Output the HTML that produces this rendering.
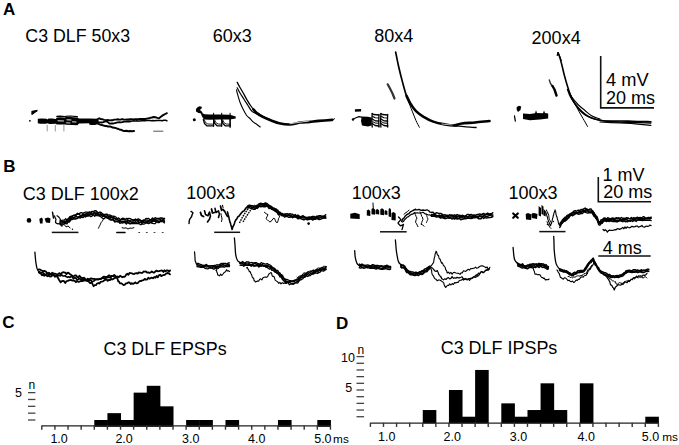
<!DOCTYPE html>
<html><head><meta charset="utf-8"><style>
html,body{margin:0;padding:0;background:#fff;overflow:hidden;width:679px;height:445px;}
svg{display:block;}
text{font-family:"Liberation Sans",sans-serif;fill:#000;}
</style></head><body>
<svg width="679" height="445" viewBox="0 0 679 445">
<rect width="679" height="445" fill="#fff"/>
<text x="3" y="15.4" font-size="17" font-weight="bold" text-anchor="start" >A</text>
<text x="3.3" y="172" font-size="17" font-weight="bold" text-anchor="start" >B</text>
<text x="2.2" y="328" font-size="17" font-weight="bold" text-anchor="start" >C</text>
<text x="336" y="328.8" font-size="17" font-weight="bold" text-anchor="start" >D</text>
<text x="25.3" y="41.5" font-size="17.8" font-weight="normal" text-anchor="start" >C3 DLF 50x3</text>
<text x="212.8" y="42" font-size="18" font-weight="normal" text-anchor="start" >60x3</text>
<text x="374.2" y="42" font-size="18" font-weight="normal" text-anchor="start" >80x4</text>
<text x="531.6" y="44.3" font-size="18" font-weight="normal" text-anchor="start" >200x4</text>
<text x="606.0" y="85.8" font-size="18.3" font-weight="normal" text-anchor="start" >4 mV</text>
<text x="606" y="104" font-size="18" font-weight="normal" text-anchor="start" >20 ms</text>
<path d="M600.7 56.1 V107.9 H654" fill="none" stroke="#111" stroke-width="1.6"/>
<text x="22.7" y="199.5" font-size="18" font-weight="normal" text-anchor="start" >C3 DLF 100x2</text>
<text x="186.2" y="198.9" font-size="18" font-weight="normal" text-anchor="start" >100x3</text>
<text x="351.7" y="198.9" font-size="18" font-weight="normal" text-anchor="start" >100x3</text>
<text x="508.5" y="199" font-size="18" font-weight="normal" text-anchor="start" >100x3</text>
<text x="602.6" y="180.8" font-size="18" font-weight="normal" text-anchor="start" >1 mV</text>
<text x="603.2" y="198.2" font-size="18" font-weight="normal" text-anchor="start" >20 ms</text>
<text x="602.7" y="253.5" font-size="18" font-weight="normal" text-anchor="start" >4 ms</text>
<path d="M598.3 176.9 V201.8 H651" fill="none" stroke="#111" stroke-width="1.6"/>
<path d="M598.3 256.0 H650.7" fill="none" stroke="#111" stroke-width="1.6"/>
<path d="M51.8 232.4 H78.4" stroke="#111" stroke-width="1.5"/>
<path d="M214.2 232.3 H240.1" stroke="#111" stroke-width="1.5"/>
<path d="M380 231.8 H406.7" stroke="#111" stroke-width="1.5"/>
<path d="M539.3 231.6 H565.5" stroke="#111" stroke-width="1.5"/>
<text x="103.6" y="354.9" font-size="17.85" font-weight="normal" text-anchor="start" >C3 DLF EPSPs</text>
<rect x="94.28" y="420.00" width="13.62" height="6.84" fill="#000"/>
<rect x="107.40" y="413.16" width="13.62" height="13.68" fill="#000"/>
<rect x="120.52" y="420.00" width="13.62" height="6.84" fill="#000"/>
<rect x="133.64" y="392.64" width="13.62" height="34.20" fill="#000"/>
<rect x="146.76" y="385.80" width="13.62" height="41.04" fill="#000"/>
<rect x="159.88" y="406.32" width="13.62" height="20.52" fill="#000"/>
<rect x="186.12" y="420.00" width="13.62" height="6.84" fill="#000"/>
<rect x="199.24" y="420.00" width="13.62" height="6.84" fill="#000"/>
<rect x="225.48" y="420.00" width="13.62" height="6.84" fill="#000"/>
<rect x="277.96" y="420.00" width="13.62" height="6.84" fill="#000"/>
<rect x="317.32" y="420.00" width="13.62" height="6.84" fill="#000"/>
<path d="M41.8 425.9 H330.44" stroke="#222" stroke-width="1.3"/>
<path d="M41.80 425.5 V429.7" stroke="#333" stroke-width="1.4"/>
<path d="M54.92 425.5 V429.7" stroke="#333" stroke-width="1.4"/>
<path d="M68.04 425.5 V429.7" stroke="#333" stroke-width="1.4"/>
<path d="M81.16 425.5 V429.7" stroke="#333" stroke-width="1.4"/>
<path d="M94.28 425.5 V429.7" stroke="#333" stroke-width="1.4"/>
<path d="M107.40 425.5 V429.7" stroke="#333" stroke-width="1.4"/>
<path d="M120.52 425.5 V429.7" stroke="#333" stroke-width="1.4"/>
<path d="M133.64 425.5 V429.7" stroke="#333" stroke-width="1.4"/>
<path d="M146.76 425.5 V429.7" stroke="#333" stroke-width="1.4"/>
<path d="M159.88 425.5 V429.7" stroke="#333" stroke-width="1.4"/>
<path d="M173.00 425.5 V429.7" stroke="#333" stroke-width="1.4"/>
<path d="M186.12 425.5 V429.7" stroke="#333" stroke-width="1.4"/>
<path d="M199.24 425.5 V429.7" stroke="#333" stroke-width="1.4"/>
<path d="M212.36 425.5 V429.7" stroke="#333" stroke-width="1.4"/>
<path d="M225.48 425.5 V429.7" stroke="#333" stroke-width="1.4"/>
<path d="M238.60 425.5 V429.7" stroke="#333" stroke-width="1.4"/>
<path d="M251.72 425.5 V429.7" stroke="#333" stroke-width="1.4"/>
<path d="M264.84 425.5 V429.7" stroke="#333" stroke-width="1.4"/>
<path d="M277.96 425.5 V429.7" stroke="#333" stroke-width="1.4"/>
<path d="M291.08 425.5 V429.7" stroke="#333" stroke-width="1.4"/>
<path d="M304.20 425.5 V429.7" stroke="#333" stroke-width="1.4"/>
<path d="M317.32 425.5 V429.7" stroke="#333" stroke-width="1.4"/>
<path d="M330.44 425.5 V429.7" stroke="#333" stroke-width="1.4"/>
<path d="M28 420.00 H35.4" stroke="#444" stroke-width="1.3"/>
<path d="M28 413.16 H35.4" stroke="#444" stroke-width="1.3"/>
<path d="M28 406.32 H35.4" stroke="#444" stroke-width="1.3"/>
<path d="M28 399.48 H35.4" stroke="#444" stroke-width="1.3"/>
<path d="M28 392.64 H35.4" stroke="#444" stroke-width="1.3"/>
<text x="15.0" y="397.1" font-size="12.5" font-weight="normal" text-anchor="start" >5</text>
<text x="28.6" y="388.9" font-size="12" font-weight="normal" text-anchor="start" >n</text>
<text x="50.4" y="442.8" font-size="12.5" font-weight="normal" text-anchor="start" >1.0</text>
<text x="115.4" y="442.8" font-size="12.5" font-weight="normal" text-anchor="start" >2.0</text>
<text x="182" y="442.8" font-size="12.5" font-weight="normal" text-anchor="start" >3.0</text>
<text x="248" y="442.8" font-size="12.5" font-weight="normal" text-anchor="start" >4.0</text>
<text x="314.2" y="442.8" font-size="12.5" font-weight="normal" text-anchor="start" >5.0</text>
<text x="333.1" y="442.8" font-size="11.8" font-weight="normal" text-anchor="start" >ms</text>
<text x="440.7" y="353.8" font-size="17.95" font-weight="normal" text-anchor="start" >C3 DLF IPSPs</text>
<rect x="422.76" y="410.04" width="13.59" height="13.36" fill="#000"/>
<rect x="448.94" y="390.00" width="13.59" height="33.40" fill="#000"/>
<rect x="462.03" y="416.72" width="13.59" height="6.68" fill="#000"/>
<rect x="475.12" y="369.96" width="13.59" height="53.44" fill="#000"/>
<rect x="501.30" y="403.36" width="13.59" height="20.04" fill="#000"/>
<rect x="514.39" y="416.72" width="13.59" height="6.68" fill="#000"/>
<rect x="527.48" y="410.04" width="13.59" height="13.36" fill="#000"/>
<rect x="540.57" y="383.32" width="13.59" height="40.08" fill="#000"/>
<rect x="553.66" y="410.04" width="13.59" height="13.36" fill="#000"/>
<rect x="579.84" y="383.32" width="13.59" height="40.08" fill="#000"/>
<rect x="645.29" y="416.72" width="13.59" height="6.68" fill="#000"/>
<path d="M370.4 423.2 H658.38" stroke="#222" stroke-width="1.3"/>
<path d="M370.40 422.8 V426.9" stroke="#333" stroke-width="1.4"/>
<path d="M383.49 422.8 V426.9" stroke="#333" stroke-width="1.4"/>
<path d="M396.58 422.8 V426.9" stroke="#333" stroke-width="1.4"/>
<path d="M409.67 422.8 V426.9" stroke="#333" stroke-width="1.4"/>
<path d="M422.76 422.8 V426.9" stroke="#333" stroke-width="1.4"/>
<path d="M435.85 422.8 V426.9" stroke="#333" stroke-width="1.4"/>
<path d="M448.94 422.8 V426.9" stroke="#333" stroke-width="1.4"/>
<path d="M462.03 422.8 V426.9" stroke="#333" stroke-width="1.4"/>
<path d="M475.12 422.8 V426.9" stroke="#333" stroke-width="1.4"/>
<path d="M488.21 422.8 V426.9" stroke="#333" stroke-width="1.4"/>
<path d="M501.30 422.8 V426.9" stroke="#333" stroke-width="1.4"/>
<path d="M514.39 422.8 V426.9" stroke="#333" stroke-width="1.4"/>
<path d="M527.48 422.8 V426.9" stroke="#333" stroke-width="1.4"/>
<path d="M540.57 422.8 V426.9" stroke="#333" stroke-width="1.4"/>
<path d="M553.66 422.8 V426.9" stroke="#333" stroke-width="1.4"/>
<path d="M566.75 422.8 V426.9" stroke="#333" stroke-width="1.4"/>
<path d="M579.84 422.8 V426.9" stroke="#333" stroke-width="1.4"/>
<path d="M592.93 422.8 V426.9" stroke="#333" stroke-width="1.4"/>
<path d="M606.02 422.8 V426.9" stroke="#333" stroke-width="1.4"/>
<path d="M619.11 422.8 V426.9" stroke="#333" stroke-width="1.4"/>
<path d="M632.20 422.8 V426.9" stroke="#333" stroke-width="1.4"/>
<path d="M645.29 422.8 V426.9" stroke="#333" stroke-width="1.4"/>
<path d="M658.38 422.8 V426.9" stroke="#333" stroke-width="1.4"/>
<path d="M356.5 416.72 H364.1" stroke="#444" stroke-width="1.3"/>
<path d="M356.5 410.04 H364.1" stroke="#444" stroke-width="1.3"/>
<path d="M356.5 403.36 H364.1" stroke="#444" stroke-width="1.3"/>
<path d="M356.5 396.68 H364.1" stroke="#444" stroke-width="1.3"/>
<path d="M356.5 390.00 H364.1" stroke="#444" stroke-width="1.3"/>
<path d="M356.5 383.32 H364.1" stroke="#444" stroke-width="1.3"/>
<path d="M356.5 376.64 H364.1" stroke="#444" stroke-width="1.3"/>
<path d="M356.5 369.96 H364.1" stroke="#444" stroke-width="1.3"/>
<path d="M356.5 363.28 H364.1" stroke="#444" stroke-width="1.3"/>
<path d="M356.5 356.60 H364.1" stroke="#444" stroke-width="1.3"/>
<text x="341" y="362.4" font-size="12.5" font-weight="normal" text-anchor="start" >10</text>
<text x="345.3" y="392.3" font-size="12.5" font-weight="normal" text-anchor="start" >5</text>
<text x="357.4" y="354.2" font-size="12" font-weight="normal" text-anchor="start" >n</text>
<text x="378.1" y="440.7" font-size="12.5" font-weight="normal" text-anchor="start" >1.0</text>
<text x="443.5" y="440.7" font-size="12.5" font-weight="normal" text-anchor="start" >2.0</text>
<text x="509.8" y="440.7" font-size="12.5" font-weight="normal" text-anchor="start" >3.0</text>
<text x="577.6" y="440.7" font-size="12.5" font-weight="normal" text-anchor="start" >4.0</text>
<text x="641.8" y="440.7" font-size="12.5" font-weight="normal" text-anchor="start" >5.0</text>
<text x="662.3" y="440.7" font-size="11.8" font-weight="normal" text-anchor="start" >ms</text>
<path d="M31.4 110.9 L34.5 110.2 L37.7 109.7 L37.3 111.6 L35.5 112.4 L33.5 114.0 L32.2 115.0 L31.3 114.4Z" fill="#000" opacity="1.0"/>
<circle cx="29.9" cy="120.8" r="0.9" fill="#000"/>
<path d="M37.8 118.8 L42.0 118.4 L46.5 118.8 L47.5 119.5 L48.5 118.6 L52.0 118.4 L55.8 119.0 L56.8 117.5 L60.0 117.2 L65.0 117.5 L65.7 117.0 L70.0 117.0 L77.4 117.5 L79.0 118.6 L90.0 118.6 L97.0 118.8 L99.0 121.0 L97.0 123.0 L90.0 123.2 L79.0 123.4 L77.4 125.2 L72.0 125.0 L66.0 124.8 L65.0 124.5 L60.0 124.5 L56.8 124.4 L55.8 123.8 L50.0 124.0 L48.7 123.8 L47.5 123.2 L46.0 123.8 L40.0 123.8 L37.8 123.2Z" fill="#000" opacity="1.0"/>
<path d="M56.8 116.4 L60.0 116.2 L65.0 116.5" fill="none" stroke="#000" stroke-width="1.2" stroke-linejoin="round" stroke-linecap="round" opacity="1.0"/>
<path d="M65.7 116.4 L70.0 116.0 L77.4 116.6" fill="none" stroke="#000" stroke-width="1.2" stroke-linejoin="round" stroke-linecap="round" opacity="1.0"/>
<path d="M58.0 120.8 L63.5 121.0" fill="none" stroke="#fff" stroke-width="0.9" stroke-linejoin="round" stroke-linecap="round" opacity="1.0"/>
<path d="M67.0 119.8 L71.0 120.0" fill="none" stroke="#fff" stroke-width="0.9" stroke-linejoin="round" stroke-linecap="round" opacity="1.0"/>
<path d="M72.5 121.8 L76.0 122.0" fill="none" stroke="#fff" stroke-width="0.9" stroke-linejoin="round" stroke-linecap="round" opacity="1.0"/>
<path d="M66.5 122.8 L70.0 123.0" fill="none" stroke="#fff" stroke-width="0.8" stroke-linejoin="round" stroke-linecap="round" opacity="1.0"/>
<path d="M97.0 119.5 L99.2 118.3 L100.9 119.1 L102.6 119.3 L104.3 119.9 L106.0 120.1 L107.8 120.0 L109.5 120.4 L111.1 120.3 L112.8 120.2 L114.4 119.6 L116.1 119.6 L117.7 119.3 L119.2 119.6 L120.8 119.5 L122.4 119.1 L123.9 119.6 L125.4 119.6 L127.0 119.5 L128.5 119.5 L130.0 119.3 L131.7 119.2 L133.3 119.4 L135.0 119.1 L136.7 119.1 L138.3 119.1 L140.0 118.9 L141.8 119.0 L143.5 118.9 L145.2 119.0 L147.0 118.6 L148.7 118.3 L150.3 117.8 L151.9 117.5 L153.6 117.0 L155.4 117.2 L157.2 117.9 L159.0 118.2 L160.5 117.1 L162.0 115.9 L163.6 114.9 L165.3 114.0 L166.9 113.2" fill="none" stroke="#000" stroke-width="1.9" stroke-linejoin="round" stroke-linecap="round" opacity="1.0"/>
<path d="M128.0 121.2 L129.5 121.2 L131.0 121.2 L132.5 120.9 L134.0 120.8 L135.5 120.9 L137.0 120.8 L138.5 121.0 L140.0 120.9 L141.7 120.8 L143.3 120.8 L145.0 120.8 L146.7 120.5 L148.3 120.6 L150.0 120.5 L151.5 120.8 L153.1 120.4 L154.6 120.7 L156.1 120.4 L157.7 120.6 L159.2 120.5 L160.8 120.5 L162.3 120.7 L163.8 120.3 L165.4 120.3 L166.9 120.7" fill="none" stroke="#000" stroke-width="1.5" stroke-linejoin="round" stroke-linecap="round" opacity="1.0"/>
<path d="M97.1 121.8 L98.6 122.1 L100.2 122.3 L101.8 122.5 L103.3 122.2 L104.8 121.7 L106.4 121.2 L108.0 122.3 L109.5 123.6 L111.5 123.3 L113.6 123.5 L115.7 122.8 L117.7 122.3 L119.2 122.2 L120.8 122.4 L122.4 122.1 L123.9 121.6 L125.4 121.6 L127.0 121.4 L128.5 121.7 L130.0 121.6" fill="none" stroke="#000" stroke-width="1.8" stroke-linejoin="round" stroke-linecap="round" opacity="1.0"/>
<path d="M90.0 123.7 L91.8 123.9 L93.5 123.8 L95.3 123.9 L97.1 123.4 L98.6 123.9 L100.2 124.6 L101.8 125.1 L103.3 125.4 L104.8 125.9 L106.4 126.0 L108.0 126.5 L109.5 126.4 L111.1 126.8 L112.8 127.6 L114.4 127.7 L116.1 128.1 L117.7 128.8 L119.4 129.4 L121.2 129.8 L122.9 130.7 L124.7 130.9 L126.5 130.7 L128.2 131.2 L130.0 131.0 L132.0 131.2 L134.0 131.1" fill="none" stroke="#000" stroke-width="2.0" stroke-linejoin="round" stroke-linecap="round" opacity="1.0"/>
<path d="M153.6 131.2 L162.9 131.2" fill="none" stroke="#555" stroke-width="1.0" stroke-linejoin="round" stroke-linecap="round" opacity="1.0"/>
<path d="M47.2 125.3 L47.2 131.0" fill="none" stroke="#888" stroke-width="0.9" stroke-linejoin="round" stroke-linecap="round" opacity="1.0"/>
<path d="M55.3 125.3 L55.3 131.0" fill="none" stroke="#888" stroke-width="0.9" stroke-linejoin="round" stroke-linecap="round" opacity="1.0"/>
<path d="M63.9 125.3 L63.9 131.0" fill="none" stroke="#888" stroke-width="0.9" stroke-linejoin="round" stroke-linecap="round" opacity="1.0"/>
<circle cx="194.3" cy="119.8" r="1.5" fill="#000"/>
<path d="M199.5 106.3 L201.8 106.8 L201.5 108.8 L199.8 109.8 L202.5 112.2 L202.0 113.5 L198.5 113.0 L196.0 111.5 L196.0 109.0 L197.5 107.3Z" fill="#000" opacity="1.0"/>
<path d="M200.3 112.2 L204.7 114.2 L210.0 114.5 L220.0 114.6 L230.0 114.8 L235.7 116.5 L235.7 118.6 L230.0 119.4 L220.0 119.6 L210.0 119.8 L204.0 119.5 L202.0 116.5Z" fill="#000" opacity="1.0"/>
<path d="M203.3 119.5 L204.5 123.5 L206.8 125.8 L213.6 125.8" fill="none" stroke="#000" stroke-width="1.3" stroke-linejoin="round" stroke-linecap="round" opacity="1.0"/>
<path d="M204.3 119.8 L205.5 122.5 L207.8 124.0 L213.6 124.2" fill="none" stroke="#222" stroke-width="1.0" stroke-linejoin="round" stroke-linecap="round" opacity="1.0"/>
<path d="M213.6 119.0 L213.6 126.2" fill="none" stroke="#000" stroke-width="1.2" stroke-linejoin="round" stroke-linecap="round" opacity="1.0"/>
<path d="M213.6 119.5 L214.8 123.5 L217.1 125.8 L221.7 125.8" fill="none" stroke="#000" stroke-width="1.3" stroke-linejoin="round" stroke-linecap="round" opacity="1.0"/>
<path d="M214.6 119.8 L215.8 122.5 L218.1 124.0 L221.7 124.2" fill="none" stroke="#222" stroke-width="1.0" stroke-linejoin="round" stroke-linecap="round" opacity="1.0"/>
<path d="M221.7 119.0 L221.7 126.2" fill="none" stroke="#000" stroke-width="1.2" stroke-linejoin="round" stroke-linecap="round" opacity="1.0"/>
<path d="M221.7 119.5 L222.9 123.5 L225.2 125.8 L230.1 125.8" fill="none" stroke="#000" stroke-width="1.3" stroke-linejoin="round" stroke-linecap="round" opacity="1.0"/>
<path d="M222.7 119.8 L223.9 122.5 L226.2 124.0 L230.1 124.2" fill="none" stroke="#222" stroke-width="1.0" stroke-linejoin="round" stroke-linecap="round" opacity="1.0"/>
<path d="M230.1 119.0 L230.1 126.2" fill="none" stroke="#000" stroke-width="1.2" stroke-linejoin="round" stroke-linecap="round" opacity="1.0"/>
<path d="M230.1 119.5 L230.1 127.6" fill="none" stroke="#000" stroke-width="1.1" stroke-linejoin="round" stroke-linecap="round" opacity="1.0"/>
<path d="M213.6 113.2 L213.6 115.0" fill="none" stroke="#000" stroke-width="1.0" stroke-linejoin="round" stroke-linecap="round" opacity="1.0"/>
<path d="M221.7 113.2 L221.7 115.0" fill="none" stroke="#000" stroke-width="1.0" stroke-linejoin="round" stroke-linecap="round" opacity="1.0"/>
<path d="M230.1 113.2 L230.1 115.0" fill="none" stroke="#000" stroke-width="1.0" stroke-linejoin="round" stroke-linecap="round" opacity="1.0"/>
<path d="M237.2 82.4 C237.7 83.2 238.9 85.7 240.0 87.5 C241.1 89.3 242.4 91.5 243.5 93.5 C244.6 95.5 245.5 97.3 246.7 99.3 C247.9 101.3 249.2 103.6 250.5 105.5 C251.8 107.4 253.0 109.0 254.8 110.7 C256.6 112.4 259.0 114.0 261.5 115.5 C264.0 117.0 268.6 118.8 270.0 119.5" fill="none" stroke="#000" stroke-width="1.3" stroke-linejoin="round" stroke-linecap="round" opacity="1.0"/>
<path d="M237.2 87.8 C237.7 88.7 238.9 91.1 240.0 93.0 C241.1 94.9 242.7 97.2 244.0 99.3 C245.3 101.4 246.7 103.5 248.0 105.5 C249.3 107.5 250.4 110.0 252.0 111.4 C253.6 112.8 255.6 113.1 257.5 114.1 C259.4 115.1 262.3 116.7 263.3 117.2" fill="none" stroke="#000" stroke-width="1.2" stroke-linejoin="round" stroke-linecap="round" opacity="1.0"/>
<path d="M253.5 109.5 C254.0 110.1 254.9 111.7 256.5 113.0 C258.1 114.3 260.9 116.0 263.3 117.2 C265.8 118.5 268.6 119.5 271.2 120.5 C273.8 121.5 276.1 122.5 279.2 123.2 C282.3 123.9 286.3 124.6 289.8 124.5 C293.3 124.4 297.1 122.9 300.4 122.5 C303.7 122.1 306.6 122.2 309.7 121.9 C312.8 121.6 315.1 121.2 318.9 120.9 C322.6 120.6 330.0 120.1 332.2 119.9" fill="none" stroke="#000" stroke-width="2.6" stroke-linejoin="round" stroke-linecap="round" opacity="1.0"/>
<path d="M236.5 89.8 C236.7 90.5 236.9 92.0 237.5 94.0 C238.1 96.0 239.0 99.5 239.9 102.0 C240.8 104.5 241.9 106.8 243.0 109.0 C244.1 111.2 245.5 113.9 246.7 115.5 C247.9 117.1 248.9 117.4 250.0 118.5 C251.1 119.6 252.2 121.2 253.4 122.2 C254.6 123.2 255.9 123.7 257.0 124.5 C258.1 125.3 259.7 126.6 260.2 127.0" fill="none" stroke="#000" stroke-width="1.1" stroke-linejoin="round" stroke-linecap="round" opacity="1.0"/>
<path d="M332.2 119.9 L334.5 118.8" fill="none" stroke="#000" stroke-width="1.0" stroke-linejoin="round" stroke-linecap="round" opacity="1.0"/>
<path d="M290.0 123.7 L300.0 122.2 L309.0 121.0" fill="none" stroke="#fff" stroke-width="0.8" stroke-linejoin="round" stroke-linecap="round" opacity="1.0"/>
<circle cx="353.0" cy="119.5" r="1.2" fill="#000"/>
<path d="M354.9 109.3 L361.1 109.0 L361.1 111.5 L354.9 111.7Z" fill="#000" opacity="1.0"/>
<path d="M353.5 119.0 L356.5 117.5 L359.0 116.6 L361.5 117.2" fill="none" stroke="#000" stroke-width="1.2" stroke-linejoin="round" stroke-linecap="round" opacity="1.0"/>
<path d="M361.7 116.5 L368.0 116.8 L371.6 117.5 L371.6 125.5 L368.0 126.4 L362.0 125.5 L361.0 121.0Z" fill="#000" opacity="1.0"/>
<path d="M372.2 113.6 L373.7 114.5 L378.7 115.0" fill="none" stroke="#000" stroke-width="1.3" stroke-linejoin="round" stroke-linecap="round" opacity="1.0"/>
<path d="M372.2 113.4 L371.9 120.0 L372.2 127.0" fill="none" stroke="#000" stroke-width="1.3" stroke-linejoin="round" stroke-linecap="round" opacity="1.0"/>
<path d="M379.0 114.5 L378.7 121.0 L379.0 127.0" fill="none" stroke="#000" stroke-width="1.3" stroke-linejoin="round" stroke-linecap="round" opacity="1.0"/>
<path d="M372.2 119.0 L375.2 120.8 L379.0 121.0" fill="none" stroke="#000" stroke-width="1.3" stroke-linejoin="round" stroke-linecap="round" opacity="1.0"/>
<path d="M372.2 123.5 L375.2 125.5 L379.0 126.0" fill="none" stroke="#000" stroke-width="1.3" stroke-linejoin="round" stroke-linecap="round" opacity="1.0"/>
<path d="M372.7 116.5 L375.2 117.8 L378.7 118.0" fill="none" stroke="#000" stroke-width="1.1" stroke-linejoin="round" stroke-linecap="round" opacity="1.0"/>
<path d="M373.0 121.8 L375.2 123.0 L378.7 123.3" fill="none" stroke="#000" stroke-width="1.0" stroke-linejoin="round" stroke-linecap="round" opacity="1.0"/>
<path d="M380.9 113.6 L382.4 114.5 L387.4 115.0" fill="none" stroke="#000" stroke-width="1.3" stroke-linejoin="round" stroke-linecap="round" opacity="1.0"/>
<path d="M380.9 113.4 L380.6 120.0 L380.9 127.0" fill="none" stroke="#000" stroke-width="1.3" stroke-linejoin="round" stroke-linecap="round" opacity="1.0"/>
<path d="M387.7 114.5 L387.4 121.0 L387.7 127.0" fill="none" stroke="#000" stroke-width="1.3" stroke-linejoin="round" stroke-linecap="round" opacity="1.0"/>
<path d="M380.9 119.0 L383.9 120.8 L387.7 121.0" fill="none" stroke="#000" stroke-width="1.3" stroke-linejoin="round" stroke-linecap="round" opacity="1.0"/>
<path d="M380.9 123.5 L383.9 125.5 L387.7 126.0" fill="none" stroke="#000" stroke-width="1.3" stroke-linejoin="round" stroke-linecap="round" opacity="1.0"/>
<path d="M381.4 116.5 L383.9 117.8 L387.4 118.0" fill="none" stroke="#000" stroke-width="1.1" stroke-linejoin="round" stroke-linecap="round" opacity="1.0"/>
<path d="M381.7 121.8 L383.9 123.0 L387.4 123.3" fill="none" stroke="#000" stroke-width="1.0" stroke-linejoin="round" stroke-linecap="round" opacity="1.0"/>
<path d="M387.7 84.3 L390.0 88.5 L392.5 93.5 L394.5 98.5" fill="none" stroke="#333" stroke-width="2.2" stroke-linejoin="round" stroke-linecap="round" opacity="1.0"/>
<path d="M395.6 52.0 C395.7 52.3 395.5 51.3 396.0 53.8 C396.5 56.3 397.7 62.4 398.8 67.2 C399.9 72.0 401.3 77.6 402.6 82.4 C403.9 87.2 405.2 92.3 406.5 95.8 C407.8 99.3 409.7 102.1 410.3 103.4" fill="none" stroke="#000" stroke-width="1.7" stroke-linejoin="round" stroke-linecap="round" opacity="1.0"/>
<path d="M406.5 95.8 C407.1 97.1 408.7 100.9 410.3 103.4 C411.9 106.0 413.8 108.9 416.0 111.1 C418.2 113.3 420.7 115.0 423.6 116.8 C426.5 118.5 429.7 120.3 433.2 121.6 C436.7 122.9 441.1 123.8 444.6 124.4 C448.1 125.0 451.3 125.6 454.2 125.4 C457.1 125.2 458.3 124.0 461.8 123.5 C465.3 123.0 470.6 122.9 475.2 122.5 C479.8 122.1 487.1 121.2 489.5 121.0" fill="none" stroke="#000" stroke-width="2.6" stroke-linejoin="round" stroke-linecap="round" opacity="1.0"/>
<path d="M408.4 101.5 C409.0 103.1 410.9 107.9 412.2 111.1 C413.5 114.3 414.8 117.9 416.0 120.6 C417.2 123.3 418.8 126.2 419.4 127.3" fill="none" stroke="#000" stroke-width="1.0" stroke-linejoin="round" stroke-linecap="round" opacity="1.0"/>
<path d="M454.2 125.8 C455.8 125.9 460.0 126.3 463.7 126.6 C467.4 126.9 474.0 127.3 476.1 127.5" fill="none" stroke="#000" stroke-width="1.3" stroke-linejoin="round" stroke-linecap="round" opacity="1.0"/>
<path d="M442.0 124.0 L452.0 125.0" fill="none" stroke="#fff" stroke-width="0.7" stroke-linejoin="round" stroke-linecap="round" opacity="1.0"/>
<path d="M516.7 107.0 L519.0 105.8 L521.2 106.5 L520.5 110.0 L518.0 112.1 L516.7 110.0Z" fill="#000" opacity="1.0"/>
<path d="M514.5 116.0 L515.3 121.0" fill="none" stroke="#000" stroke-width="1.3" stroke-linejoin="round" stroke-linecap="round" opacity="1.0"/>
<path d="M523.0 113.5 L530.0 114.0 L535.0 113.2 L536.0 110.3 L537.0 113.0 L543.0 113.2 L544.0 110.5 L545.0 113.0 L548.2 113.5 L548.2 118.5 L540.0 119.5 L530.0 120.2 L523.0 119.0Z" fill="#000" opacity="1.0"/>
<path d="M549.3 80.0 L550.5 83.5 L552.5 86.5" fill="none" stroke="#333" stroke-width="1.4" stroke-linejoin="round" stroke-linecap="round" opacity="1.0"/>
<path d="M552.5 86.0 L554.5 89.5 L556.5 95.5" fill="none" stroke="#000" stroke-width="2.4" stroke-linejoin="round" stroke-linecap="round" opacity="1.0"/>
<path d="M558.1 52.7 C558.4 53.6 559.2 55.5 560.0 58.0 C560.8 60.5 561.9 65.2 562.6 68.0 C563.3 70.8 563.4 71.7 564.3 75.0 C565.2 78.3 566.7 83.9 568.0 87.8 C569.3 91.7 570.3 95.3 572.0 98.6 C573.7 101.9 575.9 105.1 578.2 107.8 C580.5 110.5 583.3 113.0 585.9 114.8 C588.5 116.6 590.6 117.7 593.7 118.7 C596.8 119.7 600.1 120.6 604.5 121.0 C608.9 121.4 615.4 121.0 620.0 121.0 C624.6 121.0 627.1 121.1 632.3 121.2 C637.4 121.3 647.8 121.7 650.9 121.8" fill="none" stroke="#000" stroke-width="1.6" stroke-linejoin="round" stroke-linecap="round" opacity="1.0"/>
<path d="M567.4 89.3 C567.9 90.6 569.0 94.2 570.5 97.0 C572.0 99.8 574.6 103.6 576.6 106.3 C578.6 109.0 580.6 111.3 582.8 113.2 C585.0 115.1 587.1 116.3 590.0 117.5 C592.9 118.7 596.7 119.5 600.0 120.2 C603.3 120.9 605.8 121.2 610.0 121.5 C614.2 121.8 620.0 122.1 625.0 122.3 C630.0 122.5 635.7 122.5 640.0 122.6 C644.3 122.7 649.1 122.9 650.9 123.0" fill="none" stroke="#000" stroke-width="1.3" stroke-linejoin="round" stroke-linecap="round" opacity="1.0"/>
<path d="M568.5 91.0 C569.0 92.0 570.0 94.5 571.6 96.8 C573.2 99.0 575.8 102.2 578.0 104.5 C580.2 106.8 582.7 108.6 585.0 110.5 C587.3 112.4 589.5 114.6 592.0 116.0 C594.5 117.4 598.7 118.5 600.0 119.0" fill="none" stroke="#000" stroke-width="1.1" stroke-linejoin="round" stroke-linecap="round" opacity="1.0"/>
<path d="M569.8 93.2 C570.7 95.0 573.6 101.0 575.1 104.0 C576.6 107.0 577.5 108.8 578.8 111.2 C580.1 113.6 581.5 116.0 583.0 118.5 C584.5 121.0 586.8 125.1 587.5 126.4" fill="none" stroke="#000" stroke-width="1.0" stroke-linejoin="round" stroke-linecap="round" opacity="1.0"/>
<path d="M600.0 122.0 C603.3 122.2 614.1 122.7 620.0 123.0 C625.9 123.3 630.2 123.4 635.4 123.8 C640.5 124.2 648.3 125.0 650.9 125.3" fill="none" stroke="#000" stroke-width="1.2" stroke-linejoin="round" stroke-linecap="round" opacity="1.0"/>
<path d="M558.1 52.7 L559.8 56.5 L561.2 60.5" fill="none" stroke="#000" stroke-width="1.1" stroke-linejoin="round" stroke-linecap="round" opacity="1.0"/>
<path d="M557.2 55.5 L558.1 52.5" fill="none" stroke="#000" stroke-width="1.2" stroke-linejoin="round" stroke-linecap="round" opacity="1.0"/>
<circle cx="29.0" cy="220.4" r="2.3" fill="#000"/>
<path d="M39.3 219.0 L41.5 217.5 L42.9 219.0 L42.5 223.4 L40.0 223.4Z" fill="#000" opacity="1.0"/>
<path d="M44.6 218.5 L48.0 217.5 L50.5 218.5 L50.0 222.9 L46.0 222.5Z" fill="#000" opacity="1.0"/>
<path d="M52.5 212.2 L53.5 218.1" fill="none" stroke="#000" stroke-width="1.4" stroke-linejoin="round" stroke-linecap="round" opacity="1.0"/>
<path d="M54.5 215.9 L55.2 217.9 L56.0 219.3 L55.8 220.2 L55.5 222.4 L56.8 223.4 L58.0 224.0 L60.0 223.0 L61.0 224.2 L62.0 226.2" fill="none" stroke="#000" stroke-width="1.2" stroke-linejoin="round" stroke-linecap="round" opacity="1.0"/>
<path d="M57.0 215.7 L58.2 216.5 L59.5 217.8 L60.5 219.8 L61.5 221.1" fill="none" stroke="#000" stroke-width="1.1" stroke-linejoin="round" stroke-linecap="round" opacity="1.0"/>
<path d="M60.0 220.1 L61.5 220.6 L63.0 220.1 L64.3 220.2 L65.7 218.8 L67.0 219.7 L68.0 218.8 L69.0 217.7 L70.1 216.4 L71.1 216.7 L72.3 215.8 L73.5 215.5 L74.8 215.7 L76.0 214.8 L77.4 213.2 L78.8 214.1 L80.1 213.0 L81.5 212.7 L82.9 213.3 L84.2 212.7 L85.5 212.2 L86.7 212.2 L88.0 212.5 L89.3 211.9 L90.7 212.5 L92.0 211.3 L93.4 211.6 L94.7 210.7 L96.0 210.6 L97.3 212.2 L98.7 213.1 L100.0 212.0 L101.4 212.7 L102.7 214.0 L104.1 214.4 L105.4 214.8 L106.8 214.0 L108.1 215.1 L109.4 215.0 L110.7 215.3 L112.0 216.2 L113.3 216.2 L114.6 216.4 L116.0 217.2 L117.3 218.8 L118.6 217.9 L119.9 219.3 L121.2 219.1 L122.5 218.2 L123.8 218.3 L125.1 219.5 L126.4 218.4 L127.7 218.7 L129.0 218.5 L130.3 218.7 L131.6 219.4 L132.9 219.7 L134.2 220.1 L135.5 218.9 L136.9 220.0 L138.2 218.7 L139.5 219.5 L140.8 220.4 L142.1 220.7 L143.4 220.5 L144.7 219.9 L146.0 218.4 L147.3 218.7 L148.7 218.3 L150.0 219.9 L151.3 219.3 L152.6 218.0 L153.9 218.9 L155.2 217.6 L156.6 218.7 L157.9 218.3 L159.2 218.3 L160.5 217.9 L161.8 217.9 L163.2 218.4 L164.5 218.5" fill="none" stroke="#000" stroke-width="1.32" stroke-linejoin="round" stroke-linecap="round" opacity="1.0"/>
<path d="M60.0 221.4 L61.5 222.0 L63.0 221.7 L64.3 221.5 L65.7 221.1 L67.0 219.9 L68.0 219.5 L69.0 218.7 L70.1 217.7 L71.1 216.4 L72.3 216.4 L73.5 215.3 L74.8 215.0 L76.0 215.0 L77.4 214.5 L78.8 214.0 L80.1 215.1 L81.5 215.4 L82.9 214.2 L84.2 214.5 L85.5 214.0 L86.7 214.4 L88.0 213.9 L89.3 212.4 L90.7 212.4 L92.0 213.1 L93.4 213.0 L94.7 212.1 L96.0 212.1 L97.3 212.1 L98.7 212.8 L100.0 212.5 L101.4 214.4 L102.7 215.2 L104.1 215.0 L105.4 214.2 L106.8 215.1 L108.1 216.1 L109.4 216.9 L110.7 216.1 L112.0 217.5 L113.3 216.7 L114.6 218.3 L116.0 218.9 L117.3 219.9 L118.6 220.2 L119.9 220.5 L121.2 219.5 L122.5 219.2 L123.8 219.7 L125.1 220.2 L126.4 220.1 L127.7 219.7 L129.0 220.8 L130.3 221.2 L131.6 219.6 L132.9 220.3 L134.2 220.3 L135.5 221.3 L136.9 219.7 L138.2 220.8 L139.5 219.7 L140.8 221.0 L142.1 221.7 L143.4 220.0 L144.7 220.7 L146.0 220.0 L147.3 220.1 L148.7 220.7 L150.0 219.5 L151.3 220.4 L152.6 218.9 L153.9 219.7 L155.2 220.0 L156.6 218.5 L157.9 218.6 L159.2 218.6 L160.5 219.4 L161.8 218.7 L163.2 219.3 L164.5 218.5" fill="none" stroke="#000" stroke-width="1.32" stroke-linejoin="round" stroke-linecap="round" opacity="1.0"/>
<path d="M60.0 222.3 L61.5 221.6 L63.0 222.6 L64.3 221.3 L65.7 221.7 L67.0 221.6 L68.0 221.1 L69.0 220.3 L70.1 219.2 L71.1 217.9 L72.3 217.2 L73.5 218.2 L74.8 216.9 L76.0 215.8 L77.4 217.2 L78.8 216.6 L80.1 216.0 L81.5 216.2 L82.9 214.5 L84.2 214.3 L85.5 214.3 L86.7 213.5 L88.0 214.8 L89.3 214.3 L90.7 213.0 L92.0 214.4 L93.4 214.1 L94.7 213.0 L96.0 213.4 L97.3 213.2 L98.7 214.4 L100.0 214.6 L101.4 214.6 L102.7 215.7 L104.1 215.2 L105.4 216.4 L106.8 216.4 L108.1 217.6 L109.4 216.7 L110.7 217.7 L112.0 217.4 L113.3 218.4 L114.6 218.4 L116.0 219.4 L117.3 219.6 L118.6 220.5 L119.9 220.7 L121.2 221.4 L122.5 221.1 L123.8 221.4 L125.1 221.3 L126.4 221.9 L127.7 220.5 L129.0 220.6 L130.3 221.4 L131.6 222.0 L132.9 222.1 L134.2 222.2 L135.5 222.2 L136.9 222.3 L138.2 221.4 L139.5 222.7 L140.8 222.2 L142.1 222.7 L143.4 221.6 L144.7 222.4 L146.0 221.7 L147.3 221.6 L148.7 221.1 L150.0 220.6 L151.3 221.8 L152.6 220.6 L153.9 220.8 L155.2 220.0 L156.6 220.7 L157.9 220.0 L159.2 219.8 L160.5 219.9 L161.8 220.7 L163.2 219.7 L164.5 220.2" fill="none" stroke="#000" stroke-width="1.32" stroke-linejoin="round" stroke-linecap="round" opacity="1.0"/>
<path d="M60.0 224.0 L61.5 223.9 L63.0 222.7 L64.3 222.4 L65.7 222.7 L67.0 221.5 L68.0 220.6 L69.0 221.6 L70.1 220.1 L71.1 219.0 L72.3 218.0 L73.5 217.7 L74.8 217.9 L76.0 218.2 L77.4 218.2 L78.8 217.2 L80.1 216.1 L81.5 216.8 L82.9 215.3 L84.2 215.9 L85.5 215.0 L86.7 216.3 L88.0 215.5 L89.3 215.6 L90.7 214.3 L92.0 214.6 L93.4 213.9 L94.7 213.8 L96.0 215.0 L97.3 214.7 L98.7 215.0 L100.0 216.1 L101.4 215.5 L102.7 216.6 L104.1 216.3 L105.4 216.2 L106.8 217.3 L108.1 217.8 L109.4 218.0 L110.7 219.2 L112.0 219.5 L113.3 218.8 L114.6 221.0 L116.0 221.0 L117.3 221.8 L118.6 221.7 L119.9 221.7 L121.2 221.8 L122.5 222.2 L123.8 221.7 L125.1 222.5 L126.4 222.1 L127.7 221.5 L129.0 222.6 L130.3 223.6 L131.6 222.6 L132.9 221.8 L134.2 222.5 L135.5 223.4 L136.9 223.3 L138.2 223.1 L139.5 222.2 L140.8 221.9 L142.1 223.5 L143.4 222.1 L144.7 222.3 L146.0 222.6 L147.3 222.9 L148.7 221.6 L150.0 222.4 L151.3 222.9 L152.6 221.5 L153.9 221.1 L155.2 221.4 L156.6 221.0 L157.9 221.2 L159.2 222.2 L160.5 220.4 L161.8 220.8 L163.2 220.5 L164.5 221.7" fill="none" stroke="#000" stroke-width="1.32" stroke-linejoin="round" stroke-linecap="round" opacity="1.0"/>
<path d="M60.0 224.4 L61.5 225.5 L63.0 224.7 L64.3 223.4 L65.7 223.6 L67.0 223.9 L68.0 221.5 L69.0 222.2 L70.1 221.1 L71.1 219.7 L72.3 219.5 L73.5 218.8 L74.8 219.0 L76.0 219.0 L77.4 218.4 L78.8 217.3 L80.1 218.1 L81.5 217.2 L82.9 217.7 L84.2 216.3 L85.5 217.0 L86.7 215.7 L88.0 216.2 L89.3 215.3 L90.7 216.7 L92.0 216.1 L93.4 214.7 L94.7 216.2 L96.0 215.3 L97.3 215.7 L98.7 215.9 L100.0 216.0 L101.4 217.4 L102.7 218.3 L104.1 218.7 L105.4 217.3 L106.8 217.8 L108.1 218.3 L109.4 219.5 L110.7 220.2 L112.0 220.1 L113.3 220.1 L114.6 222.0 L116.0 221.6 L117.3 221.3 L118.6 221.7 L119.9 223.3 L121.2 222.7 L122.5 223.2 L123.8 222.5 L125.1 222.6 L126.4 224.1 L127.7 222.5 L129.0 223.5 L130.3 223.9 L131.6 223.4 L132.9 223.5 L134.2 223.4 L135.5 223.5 L136.9 223.4 L138.2 223.6 L139.5 223.9 L140.8 224.8 L142.1 223.9 L143.4 224.2 L144.7 223.8 L146.0 222.7 L147.3 223.1 L148.7 223.6 L150.0 222.7 L151.3 222.7 L152.6 223.3 L153.9 223.6 L155.2 223.5 L156.6 221.8 L157.9 222.5 L159.2 222.6 L160.5 221.6 L161.8 221.6 L163.2 221.7 L164.5 222.9" fill="none" stroke="#000" stroke-width="1.32" stroke-linejoin="round" stroke-linecap="round" opacity="1.0"/>
<path d="M64.0 224.5 L65.0 225.3 L66.0 226.9 L68.0 226.1 L69.0 226.6 L70.0 228.0" fill="none" stroke="#000" stroke-width="1.0" stroke-linejoin="round" stroke-linecap="round" opacity="1.0"/>
<circle cx="72.5" cy="229.3" r="0.7" fill="#000"/>
<path d="M103.8 218.4 L102.9 220.1 L101.9 221.7 L101.0 222.7 L100.2 224.8 L99.3 226.4 L98.5 228.2" fill="none" stroke="#000" stroke-width="1.0" stroke-linejoin="round" stroke-linecap="round" opacity="1.0"/>
<path d="M122.1 227.7 L124.1 228.2 L126.0 227.8 L128.0 229.0 L130.0 228.0 L131.9 228.3 L133.9 227.6" fill="none" stroke="#000" stroke-width="1.0" stroke-linejoin="round" stroke-linecap="round" opacity="1.0"/>
<path d="M116.8 232.6 L125.0 232.6" fill="none" stroke="#000" stroke-width="1.5" stroke-linejoin="round" stroke-linecap="round" opacity="1.0"/>
<path d="M138.7 232.5 L139.7 232.5" fill="none" stroke="#444" stroke-width="1.0" stroke-linejoin="round" stroke-linecap="round" opacity="1.0"/>
<path d="M146.3 232.5 L147.3 232.5" fill="none" stroke="#444" stroke-width="1.0" stroke-linejoin="round" stroke-linecap="round" opacity="1.0"/>
<path d="M154.0 232.5 L155.0 232.5" fill="none" stroke="#444" stroke-width="1.0" stroke-linejoin="round" stroke-linecap="round" opacity="1.0"/>
<path d="M162.2 232.5 L163.2 232.5" fill="none" stroke="#444" stroke-width="1.0" stroke-linejoin="round" stroke-linecap="round" opacity="1.0"/>
<path d="M34.9 252.1 C35.0 253.1 35.2 256.2 35.4 258.0 C35.6 259.8 35.6 260.9 35.9 262.7 C36.2 264.5 36.6 267.1 37.1 268.6 C37.6 270.1 38.0 270.8 38.8 271.5 C39.6 272.2 41.3 272.6 41.8 272.8" fill="none" stroke="#000" stroke-width="1.3" stroke-linejoin="round" stroke-linecap="round" opacity="1.0"/>
<path d="M38.8 269.3 L40.2 269.7 L41.6 270.5 L43.0 271.3 L44.2 270.8 L45.4 271.3 L46.5 272.2 L47.7 273.8 L48.9 272.6 L50.0 273.8 L51.2 273.6 L52.4 272.6 L53.6 273.6 L54.8 273.7 L55.9 273.8 L57.1 275.3 L58.3 273.7 L59.5 273.1 L60.6 274.5 L61.8 273.0 L63.0 272.1 L64.2 272.5 L65.3 272.7 L66.5 274.1 L67.7 272.7 L68.9 273.2 L70.1 274.4 L71.2 274.8 L72.4 276.0 L73.6 276.3 L74.8 275.5 L76.0 275.4 L77.2 276.9 L78.3 277.4 L79.5 275.7 L80.7 277.3 L81.9 278.0 L83.1 278.1 L84.2 277.7 L85.4 279.3 L86.6 279.7 L87.8 278.6 L88.9 279.5 L90.1 278.6 L91.3 278.3 L92.5 278.9 L93.6 278.9 L94.8 279.0 L96.0 279.3 L97.2 279.4 L98.3 279.4 L99.5 279.2 L100.7 279.0 L101.8 278.3 L102.9 277.1 L104.0 276.6 L105.1 277.3 L106.2 276.9 L107.4 276.9 L108.5 275.5 L109.6 275.5 L110.7 276.7 L111.8 275.8 L113.0 276.1 L114.2 275.0 L115.3 275.8 L116.5 276.9 L117.7 276.5 L118.9 277.3 L120.1 275.8 L121.2 276.5 L122.4 277.3 L123.6 276.7 L124.5 276.8 L125.5 275.8 L126.4 274.3 L127.4 273.7 L128.3 274.9 L129.5 273.0 L130.6 273.1 L131.8 273.3 L133.0 273.9 L134.1 274.1 L135.3 273.3 L136.5 273.2 L137.7 273.6 L138.8 272.5 L140.0 272.6 L141.2 272.9 L142.4 272.9 L143.6 271.5 L144.7 271.6 L145.9 271.5 L147.1 272.6 L148.3 272.4 L149.5 272.9 L150.6 272.5 L151.8 271.4 L153.0 272.3 L154.2 272.7 L155.4 271.4 L156.5 270.6 L157.7 271.3 L158.9 271.1 L160.0 270.8 L161.1 270.5 L162.3 270.6 L163.4 272.0 L164.5 270.3 L165.6 271.4 L166.7 270.5 L167.9 270.4 L169.0 271.6 L170.1 270.5" fill="none" stroke="#000" stroke-width="1.8" stroke-linejoin="round" stroke-linecap="round" opacity="1.0"/>
<path d="M38.8 272.5 L39.9 273.1 L41.0 273.7 L42.0 275.3 L43.1 274.8 L44.2 275.7 L45.3 274.8 L46.5 275.6 L47.7 276.3 L48.9 275.6 L50.0 276.5 L51.2 276.4 L52.4 275.3 L53.6 274.6 L54.8 276.7 L56.0 276.1 L57.1 276.4 L58.3 278.5 L59.1 279.9 L59.8 281.0 L60.6 282.4 L61.8 281.1 L63.0 281.0 L64.1 281.2 L65.3 283.1 L66.5 281.1 L67.7 280.9 L68.8 280.4 L70.0 280.2 L71.2 280.0 L72.4 280.7 L73.6 280.5 L74.7 280.9 L75.9 282.2 L77.1 280.8 L78.3 281.9 L79.5 281.6 L80.7 281.0 L81.8 280.9 L83.0 281.0 L84.2 280.5 L85.4 280.2 L86.6 280.8 L87.8 281.0 L88.9 281.7 L90.1 283.3 L91.3 282.6 L92.1 282.8 L92.8 284.6 L93.6 286.2 L94.8 285.1 L95.9 285.2 L97.1 283.5 L98.3 283.0 L99.5 283.6 L100.7 281.8 L101.8 281.7 L103.0 281.3 L104.2 280.5 L105.3 279.8 L106.5 279.4 L107.7 280.9 L108.8 280.0 L110.0 280.1 L111.1 278.9 L112.2 279.5 L113.2 279.0 L114.3 278.2 L115.4 277.8 L116.5 277.4 L117.1 278.0 L117.7 279.5 L118.3 281.4 L118.9 281.5 L120.1 283.4 L121.2 283.3 L122.4 284.1 L123.6 285.1 L124.8 284.6 L126.0 283.3 L127.1 283.3 L128.3 282.5 L129.5 282.4 L130.7 284.1 L131.8 283.2 L133.0 283.9 L134.1 283.4 L135.3 282.3 L136.5 283.4 L137.7 283.1 L138.8 281.9 L140.0 280.9 L141.2 281.1 L142.4 280.3 L143.6 280.1 L144.7 278.9 L145.9 279.6 L147.1 279.6 L148.3 277.8 L149.5 278.7 L150.7 278.1 L151.8 277.7 L153.0 278.3 L154.2 277.0 L155.4 277.7 L156.6 275.9 L157.8 277.4 L158.9 275.4 L160.1 274.7 L161.3 276.1 L162.5 275.4 L163.7 275.0 L164.8 274.8 L166.0 273.7 L167.3 273.0 L168.7 273.3 L170.0 274.4" fill="none" stroke="#000" stroke-width="1.8" stroke-linejoin="round" stroke-linecap="round" opacity="1.0"/>
<path d="M38.8 271.9 L40.0 272.4 L41.3 273.1 L42.5 272.4 L43.8 273.5 L45.0 274.3 L46.2 274.5 L47.3 273.2 L48.5 274.3 L49.7 274.4 L50.8 274.3 L52.0 275.4 L53.2 274.9 L54.4 275.0 L55.6 276.3 L56.8 276.0 L58.0 275.6 L59.2 275.5 L60.4 275.8 L61.6 274.8 L62.8 275.8 L64.0 276.0 L65.2 275.7 L66.4 276.8 L67.6 277.3 L68.8 276.8 L70.0 277.4 L71.1 276.5 L72.3 276.7 L73.4 278.8 L74.6 277.7 L75.7 277.9 L76.9 279.5 L78.0 279.5 L79.2 278.5 L80.3 279.1 L81.5 279.2 L82.7 279.5 L83.8 279.3 L85.0 280.5 L86.2 280.2 L87.3 280.5 L88.5 280.1 L89.7 280.1 L90.8 280.0 L92.0 281.7 L93.1 281.3 L94.3 280.7 L95.4 279.6 L96.6 279.4 L97.7 279.2 L98.9 279.3 L100.0 278.6 L101.1 278.8 L102.3 278.3 L103.4 278.0 L104.6 278.7 L105.7 278.0 L106.9 277.7 L108.0 277.2 L109.2 277.4 L110.4 277.7 L111.6 276.5 L112.8 275.8 L114.0 276.5" fill="none" stroke="#000" stroke-width="1.7" stroke-linejoin="round" stroke-linecap="round" opacity="1.0"/>
<path d="M191.0 211.4 L193.0 212.8 L192.2 214.5 L191.5 216.8 L190.5 218.1 L189.5 219.7 L189.2 221.6 L189.0 223.5" fill="none" stroke="#000" stroke-width="1.4" stroke-linejoin="round" stroke-linecap="round" opacity="1.0"/>
<path d="M200.5 212.5 L201.5 215.5 L203.5 216.5" fill="none" stroke="#000" stroke-width="1.9" stroke-linejoin="round" stroke-linecap="round" opacity="1.0"/>
<path d="M204.5 210.7 L205.0 212.4 L205.5 214.6 L208.0 215.7 L208.8 213.6 L209.5 212.0 L210.0 214.1 L210.5 216.3 L210.0 217.5 L209.5 219.2 L208.5 220.5 L207.5 222.0" fill="none" stroke="#000" stroke-width="1.6" stroke-linejoin="round" stroke-linecap="round" opacity="1.0"/>
<path d="M211.5 209.0 L212.5 213.0 L214.5 212.5" fill="none" stroke="#000" stroke-width="1.8" stroke-linejoin="round" stroke-linecap="round" opacity="1.0"/>
<path d="M215.0 208.4 L215.5 210.5 L216.0 212.5 L218.5 210.9 L219.0 212.5 L219.5 213.9 L219.0 215.5 L218.5 217.5" fill="none" stroke="#000" stroke-width="1.6" stroke-linejoin="round" stroke-linecap="round" opacity="1.0"/>
<path d="M220.5 206.0 L220.8 207.3 L221.2 209.1 L221.5 210.4 L223.0 209.3 L224.5 211.3" fill="none" stroke="#000" stroke-width="1.7" stroke-linejoin="round" stroke-linecap="round" opacity="1.0"/>
<path d="M222.5 205.3 L223.0 207.5" fill="none" stroke="#000" stroke-width="1.1" stroke-linejoin="round" stroke-linecap="round" opacity="1.0"/>
<path d="M224.5 211.0 L226.0 214.0 L227.5 216.5" fill="none" stroke="#000" stroke-width="1.6" stroke-linejoin="round" stroke-linecap="round" opacity="1.0"/>
<path d="M221.0 213.7 L221.3 215.6 L221.7 217.1 L222.0 219.2 L221.5 221.5" fill="none" stroke="#000" stroke-width="1.0" stroke-linejoin="round" stroke-linecap="round" opacity="1.0"/>
<path d="M227.4 211.9 L227.8 213.0 L228.2 214.9 L228.7 216.4 L229.1 218.6 L229.5 220.2 L229.9 222.0 L230.4 222.8 L230.8 224.7 L231.2 225.9 L231.7 227.6 L232.1 229.5 L232.7 227.4 L233.3 226.0 L233.9 224.9 L234.5 223.2 L235.1 221.3 L235.7 220.1 L236.8 218.9 L237.8 216.8 L238.9 216.2 L240.0 214.7 L241.3 213.0 L242.6 211.6 L243.9 211.1 L245.1 209.3 L246.2 207.8 L247.4 206.7 L248.6 206.2" fill="none" stroke="#000" stroke-width="1.6" stroke-linejoin="round" stroke-linecap="round" opacity="1.0"/>
<path d="M239.5 222.95 L242.5 217 L247.5 209.5 L251.5 205" fill="none" stroke="#000" stroke-width="1.4" stroke-dasharray="1.6 0.9"/>
<path d="M243.0 221.9 L246.0 217 L251.0 209.5 L255.0 205" fill="none" stroke="#000" stroke-width="1.4" stroke-dasharray="1.6 0.9"/>
<path d="M248.0 205.6 L249.4 205.1 L250.8 205.6 L252.2 205.8 L253.6 206.0 L255.0 206.3 L256.2 205.5 L257.4 205.7 L258.5 204.1 L259.7 203.6 L260.9 203.1 L262.4 204.0 L263.9 203.8 L265.3 203.0 L266.8 203.5 L268.0 204.6 L269.1 205.4 L270.3 205.9 L271.5 206.7 L272.7 207.6 L273.9 208.0 L275.0 208.7 L276.2 209.4 L277.1 210.0 L277.9 210.1 L278.8 212.2 L279.7 212.0 L280.9 213.1 L282.1 213.5 L283.3 214.1 L284.5 214.5 L285.8 213.9 L287.2 213.7 L288.5 214.1 L289.9 213.8 L291.2 214.1 L292.6 214.3 L293.9 215.6 L295.2 214.6 L296.5 215.9 L297.9 215.0 L299.2 216.1 L300.5 216.8 L301.9 216.1 L303.2 215.7 L304.5 217.0 L305.8 217.5 L307.2 217.5 L308.5 217.2 L309.9 217.2 L311.2 217.0 L312.6 216.5 L313.9 216.4 L315.2 217.4 L316.5 216.2 L317.8 216.2 L319.1 215.8 L320.5 215.7 L321.8 216.4 L323.1 216.5 L324.4 215.8 L325.7 214.8" fill="none" stroke="#000" stroke-width="1.44" stroke-linejoin="round" stroke-linecap="round" opacity="1.0"/>
<path d="M248.0 206.1 L249.4 206.6 L250.8 205.7 L252.2 207.4 L253.6 207.3 L255.0 206.6 L256.2 206.9 L257.4 205.7 L258.5 205.2 L259.7 205.0 L260.9 203.8 L262.4 203.9 L263.9 204.3 L265.3 205.2 L266.8 203.8 L268.0 204.7 L269.1 205.6 L270.3 207.2 L271.5 207.1 L272.7 208.6 L273.9 209.0 L275.0 208.9 L276.2 209.2 L277.1 210.7 L277.9 211.9 L278.8 213.0 L279.7 213.0 L280.9 213.7 L282.1 214.7 L283.3 214.4 L284.5 214.1 L285.8 214.7 L287.2 215.6 L288.5 214.7 L289.9 215.1 L291.2 215.8 L292.6 216.3 L293.9 215.6 L295.2 215.7 L296.5 216.8 L297.9 216.5 L299.2 216.4 L300.5 217.2 L301.9 216.9 L303.2 216.9 L304.5 217.7 L305.8 217.5 L307.2 218.1 L308.5 217.5 L309.9 217.3 L311.2 217.6 L312.6 217.4 L313.9 218.4 L315.2 217.7 L316.5 217.5 L317.8 217.4 L319.1 216.8 L320.5 217.4 L321.8 216.5 L323.1 216.1 L324.4 217.0 L325.7 216.2" fill="none" stroke="#000" stroke-width="1.44" stroke-linejoin="round" stroke-linecap="round" opacity="1.0"/>
<path d="M248.0 207.3 L249.4 206.4 L250.8 206.7 L252.2 208.1 L253.6 207.4 L255.0 208.5 L256.2 207.9 L257.4 206.2 L258.5 207.1 L259.7 205.3 L260.9 204.8 L262.4 205.2 L263.9 205.3 L265.3 205.2 L266.8 205.3 L268.0 206.4 L269.1 206.9 L270.3 206.9 L271.5 209.1 L272.7 209.5 L273.9 210.0 L275.0 209.8 L276.2 211.0 L277.1 212.4 L277.9 213.1 L278.8 212.7 L279.7 214.5 L280.9 214.1 L282.1 214.7 L283.3 215.3 L284.5 215.4 L285.8 215.4 L287.2 215.8 L288.5 215.2 L289.9 215.7 L291.2 216.9 L292.6 216.7 L293.9 216.2 L295.2 216.8 L296.5 216.3 L297.9 217.5 L299.2 217.6 L300.5 217.1 L301.9 217.4 L303.2 218.1 L304.5 217.7 L305.8 217.8 L307.2 218.0 L308.5 218.3 L309.9 218.4 L311.2 218.7 L312.6 217.8 L313.9 219.0 L315.2 218.0 L316.5 217.4 L317.8 218.5 L319.1 218.2 L320.5 217.4 L321.8 217.1 L323.1 216.9 L324.4 218.1 L325.7 217.8" fill="none" stroke="#000" stroke-width="1.44" stroke-linejoin="round" stroke-linecap="round" opacity="1.0"/>
<path d="M248.0 208.1 L249.4 207.4 L250.8 208.5 L252.2 208.5 L253.6 209.3 L255.0 209.3 L256.2 207.6 L257.4 208.4 L258.5 206.8 L259.7 206.1 L260.9 206.8 L262.4 206.3 L263.9 206.7 L265.3 206.8 L266.8 206.1 L268.0 206.8 L269.1 208.6 L270.3 207.8 L271.5 209.0 L272.7 209.4 L273.9 210.2 L275.0 211.1 L276.2 211.8 L277.1 212.0 L277.9 214.0 L278.8 215.1 L279.7 214.8 L280.9 214.8 L282.1 215.9 L283.3 215.8 L284.5 217.0 L285.8 216.6 L287.2 216.3 L288.5 217.3 L289.9 217.3 L291.2 216.4 L292.6 217.7 L293.9 217.1 L295.2 217.1 L296.5 217.4 L297.9 218.7 L299.2 218.6 L300.5 218.3 L301.9 219.2 L303.2 219.7 L304.5 219.8 L305.8 218.8 L307.2 219.8 L308.5 219.5 L309.9 219.3 L311.2 218.9 L312.6 220.0 L313.9 219.3 L315.2 219.4 L316.5 218.6 L317.8 218.8 L319.1 219.5 L320.5 219.3 L321.8 218.5 L323.1 218.3 L324.4 217.6 L325.7 218.0" fill="none" stroke="#000" stroke-width="1.44" stroke-linejoin="round" stroke-linecap="round" opacity="1.0"/>
<path d="M264.4 212.3 L266.2 213.7 L268.0 214.6 L267.0 216.8 L266.0 218.6 L267.3 219.7 L268.7 221.1 L270.0 222.1 L271.0 221.2 L272.0 220.5 L273.0 218.7 L274.0 218.1 L274.8 219.0 L275.5 220.9 L276.2 222.2 L277.0 223.0 L277.5 222.2 L278.1 220.6 L278.6 218.5 L279.2 217.4 L279.7 216.2" fill="none" stroke="#000" stroke-width="1.0" stroke-linejoin="round" stroke-linecap="round" opacity="1.0"/>
<circle cx="308.6" cy="223.6" r="1.3" fill="#000"/>
<path d="M194.5 251.8 C194.6 252.5 194.8 254.4 194.9 256.0 C195.0 257.6 194.9 259.6 195.3 261.2 C195.7 262.8 196.8 264.6 197.1 265.3" fill="none" stroke="#000" stroke-width="1.2" stroke-linejoin="round" stroke-linecap="round" opacity="1.0"/>
<path d="M197.1 263.5 L198.4 263.5 L199.7 264.2 L201.1 264.5 L202.4 265.2 L203.7 265.3 L205.0 265.3 L206.4 264.4 L207.8 265.7 L209.2 265.9 L210.6 265.8 L212.0 265.6 L213.2 265.6 L214.4 265.5 L215.6 265.5 L216.8 264.7 L218.0 265.1 L219.3 264.7 L220.7 263.7 L222.0 263.5 L223.2 263.4 L224.5 263.4 L225.8 263.4 L227.0 264.0 L228.2 262.9 L229.5 262.9" fill="none" stroke="#000" stroke-width="1.32" stroke-linejoin="round" stroke-linecap="round" opacity="1.0"/>
<path d="M197.1 264.7 L198.4 264.9 L199.7 265.8 L201.1 265.9 L202.4 265.8 L203.7 265.5 L205.0 265.6 L206.4 265.4 L207.8 266.0 L209.2 266.1 L210.6 266.0 L212.0 266.0 L213.2 266.4 L214.4 266.8 L215.6 266.4 L216.8 266.7 L218.0 266.1 L219.3 266.3 L220.7 264.7 L222.0 265.3 L223.2 264.2 L224.5 265.5 L225.8 265.0 L227.0 265.0 L228.2 264.0 L229.5 265.0" fill="none" stroke="#000" stroke-width="1.32" stroke-linejoin="round" stroke-linecap="round" opacity="1.0"/>
<path d="M197.1 266.3 L198.4 265.8 L199.7 265.8 L201.1 266.7 L202.4 266.2 L203.7 266.6 L205.0 266.5 L206.4 267.2 L207.8 266.6 L209.2 267.0 L210.6 267.9 L212.0 267.6 L213.2 267.2 L214.4 266.9 L215.6 267.5 L216.8 267.6 L218.0 266.9 L219.3 266.8 L220.7 265.7 L222.0 265.9 L223.2 266.6 L224.5 265.3 L225.8 265.3 L227.0 266.0 L228.2 265.5 L229.5 265.7" fill="none" stroke="#000" stroke-width="1.32" stroke-linejoin="round" stroke-linecap="round" opacity="1.0"/>
<path d="M197.1 266.7 L198.4 266.8 L199.7 267.2 L201.1 267.4 L202.4 267.3 L203.7 267.3 L205.0 268.3 L206.4 268.7 L207.8 268.9 L209.2 267.8 L210.6 268.1 L212.0 268.0 L213.2 269.0 L214.4 269.0 L215.6 268.0 L216.8 268.9 L218.0 268.6 L219.3 267.2 L220.7 267.0 L222.0 266.8 L223.2 266.9 L224.5 267.2 L225.8 266.3 L227.0 266.6 L228.2 266.6 L229.5 266.6" fill="none" stroke="#000" stroke-width="1.32" stroke-linejoin="round" stroke-linecap="round" opacity="1.0"/>
<path d="M215.9 270.5 L216.4 269.8 L216.9 272.3 L217.3 272.9 L217.8 275.0 L218.3 275.1 L219.5 275.9 L220.7 274.1 L221.8 275.5 L223.0 274.0 L223.9 272.7 L224.8 272.1 L225.6 271.8 L226.5 269.7 L227.5 271.0 L228.5 270.8 L229.5 271.5" fill="none" stroke="#000" stroke-width="1.1" stroke-linejoin="round" stroke-linecap="round" opacity="1.0"/>
<path d="M234.4 238.0 C234.5 239.2 234.8 242.2 235.0 245.0 C235.2 247.8 235.3 252.1 235.7 254.7 C236.1 257.3 236.7 259.1 237.5 260.5 C238.3 261.9 240.2 262.4 240.7 262.8" fill="none" stroke="#000" stroke-width="1.3" stroke-linejoin="round" stroke-linecap="round" opacity="1.0"/>
<path d="M240.0 262.6 L241.2 262.9 L242.5 261.5 L243.8 262.5 L245.0 263.0 L246.2 261.9 L247.5 261.9 L248.8 262.0 L250.0 263.0 L251.2 262.5 L252.5 262.6 L253.8 263.2 L255.0 262.7 L256.2 262.6 L257.5 263.3 L258.8 263.9 L260.0 264.1 L261.2 262.6 L262.4 263.3 L263.6 263.3 L264.8 264.1 L266.0 263.9 L267.2 263.6 L268.4 264.4 L269.6 264.9 L270.8 265.5 L271.9 266.8 L273.1 267.6 L274.3 268.2 L275.2 268.9 L276.2 270.7 L277.1 270.3 L278.1 270.9 L279.1 273.3 L280.0 273.0 L280.9 274.8 L281.7 274.7 L282.6 275.6 L283.4 277.6 L284.3 278.5 L285.1 279.2 L286.0 279.5 L287.2 279.5 L288.4 280.0 L289.5 280.7 L290.7 280.7 L292.0 280.9 L293.2 280.9 L294.5 280.1 L295.7 280.2 L297.0 279.0 L298.0 279.0 L299.0 278.0 L300.0 277.8 L300.9 275.9 L301.9 276.1 L302.9 274.9 L303.9 275.4 L304.9 273.9 L306.2 274.3 L307.4 272.2 L308.7 272.1 L309.9 272.2 L311.2 271.4 L312.5 270.7 L313.7 270.2 L315.0 271.3 L316.2 269.5 L317.5 269.6 L318.7 269.7 L319.9 268.5 L321.2 268.1 L322.4 267.3 L323.6 268.2 L324.9 268.0 L326.1 266.6" fill="none" stroke="#000" stroke-width="1.32" stroke-linejoin="round" stroke-linecap="round" opacity="1.0"/>
<path d="M240.0 263.3 L241.2 262.6 L242.5 263.0 L243.8 262.9 L245.0 263.9 L246.2 263.1 L247.5 263.2 L248.8 263.4 L250.0 264.6 L251.2 264.8 L252.5 264.0 L253.8 264.0 L255.0 263.3 L256.2 264.2 L257.5 264.7 L258.8 264.9 L260.0 263.9 L261.2 265.2 L262.4 264.3 L263.6 265.4 L264.8 265.6 L266.0 265.1 L267.2 265.4 L268.4 266.1 L269.6 267.1 L270.8 266.4 L271.9 268.1 L273.1 268.8 L274.3 269.0 L275.2 270.0 L276.2 271.7 L277.1 271.8 L278.1 272.7 L279.1 272.8 L280.0 274.6 L280.9 276.1 L281.7 275.6 L282.6 277.2 L283.4 277.6 L284.3 278.8 L285.1 279.7 L286.0 281.3 L287.2 281.1 L288.4 282.2 L289.5 281.6 L290.7 281.6 L292.0 281.5 L293.2 281.2 L294.5 281.7 L295.7 280.0 L297.0 279.8 L298.0 280.5 L299.0 278.4 L300.0 277.9 L300.9 278.0 L301.9 276.2 L302.9 275.7 L303.9 275.8 L304.9 274.6 L306.2 273.6 L307.4 274.3 L308.7 273.2 L309.9 272.7 L311.2 273.6 L312.5 272.1 L313.7 271.6 L315.0 271.3 L316.2 271.5 L317.5 269.9 L318.7 270.8 L319.9 269.2 L321.2 270.2 L322.4 268.8 L323.6 268.5 L324.9 268.5 L326.1 267.1" fill="none" stroke="#000" stroke-width="1.32" stroke-linejoin="round" stroke-linecap="round" opacity="1.0"/>
<path d="M240.0 263.2 L241.2 264.2 L242.5 263.4 L243.8 265.1 L245.0 264.2 L246.2 264.7 L247.5 265.1 L248.8 264.5 L250.0 264.5 L251.2 265.4 L252.5 264.7 L253.8 265.1 L255.0 265.3 L256.2 265.1 L257.5 264.9 L258.8 265.3 L260.0 265.5 L261.2 266.2 L262.4 265.1 L263.6 266.2 L264.8 266.4 L266.0 266.1 L267.2 266.7 L268.4 265.9 L269.6 267.2 L270.8 267.3 L271.9 268.1 L273.1 269.3 L274.3 269.6 L275.2 271.8 L276.2 272.1 L277.1 273.0 L278.1 273.5 L279.1 274.8 L280.0 276.0 L280.9 275.8 L281.7 277.0 L282.6 278.5 L283.4 278.3 L284.3 279.6 L285.1 280.5 L286.0 282.0 L287.2 282.6 L288.4 281.8 L289.5 282.3 L290.7 283.0 L292.0 283.5 L293.2 283.4 L294.5 283.0 L295.7 282.5 L297.0 281.4 L298.0 281.5 L299.0 281.0 L300.0 278.7 L300.9 278.1 L301.9 277.1 L302.9 277.8 L303.9 277.2 L304.9 276.3 L306.2 275.4 L307.4 274.3 L308.7 275.4 L309.9 274.1 L311.2 273.5 L312.5 274.1 L313.7 272.1 L315.0 272.5 L316.2 271.2 L317.5 272.0 L318.7 270.6 L319.9 270.5 L321.2 270.7 L322.4 269.2 L323.6 269.9 L324.9 269.4 L326.1 269.0" fill="none" stroke="#000" stroke-width="1.32" stroke-linejoin="round" stroke-linecap="round" opacity="1.0"/>
<path d="M240.0 265.1 L241.2 265.3 L242.5 265.1 L243.8 266.2 L245.0 265.4 L246.2 265.4 L247.5 265.0 L248.8 265.3 L250.0 265.2 L251.2 266.3 L252.5 265.2 L253.8 266.3 L255.0 266.0 L256.2 265.8 L257.5 265.5 L258.8 267.0 L260.0 266.4 L261.2 265.9 L262.4 265.8 L263.6 266.2 L264.8 266.1 L266.0 267.4 L267.2 267.3 L268.4 268.5 L269.6 269.1 L270.8 268.4 L271.9 270.3 L273.1 270.4 L274.3 271.6 L275.2 272.3 L276.2 272.4 L277.1 273.5 L278.1 274.0 L279.1 275.0 L280.0 277.0 L280.9 276.7 L281.7 277.9 L282.6 279.9 L283.4 280.0 L284.3 281.6 L285.1 282.1 L286.0 283.4 L287.2 282.3 L288.4 283.2 L289.5 284.8 L290.7 284.0 L292.0 283.8 L293.2 284.4 L294.5 283.5 L295.7 282.7 L297.0 283.2 L298.0 282.6 L299.0 280.8 L300.0 280.0 L300.9 279.9 L301.9 279.3 L302.9 278.7 L303.9 276.9 L304.9 277.4 L306.2 275.8 L307.4 276.5 L308.7 275.8 L309.9 275.6 L311.2 274.7 L312.5 273.7 L313.7 274.0 L315.0 272.9 L316.2 273.0 L317.5 273.5 L318.7 272.5 L319.9 272.3 L321.2 270.7 L322.4 270.8 L323.6 271.1 L324.9 270.3 L326.1 269.4" fill="none" stroke="#000" stroke-width="1.32" stroke-linejoin="round" stroke-linecap="round" opacity="1.0"/>
<path d="M246.6 267.9 L247.3 267.3 L248.0 269.1 L248.7 269.9 L249.4 271.8 L250.1 271.6 L250.6 272.7 L251.1 274.0 L251.6 274.6 L252.1 276.7 L252.6 277.6 L253.1 278.3 L253.6 278.0 L254.2 280.8 L254.8 280.9 L255.4 282.0 L256.5 281.4 L257.5 280.9 L258.6 281.3 L259.6 279.5 L260.7 278.8 L261.9 279.9 L263.0 277.8 L264.2 277.3 L265.4 277.0 L266.7 277.3 L268.0 275.8 L268.9 274.0 L269.8 273.5 L270.7 272.5 L271.5 273.0 L272.2 275.8 L273.0 276.5 L273.7 276.3 L274.4 277.6 L275.2 280.1 L275.9 280.6 L276.6 281.1 L277.7 281.9 L278.8 283.3 L279.9 282.4 L281.0 283.8 L282.2 282.6 L283.5 283.5 L284.8 283.0 L286.0 283.3" fill="none" stroke="#000" stroke-width="1.1" stroke-linejoin="round" stroke-linecap="round" opacity="1.0"/>
<path d="M297.0 277.2 L298.0 278.2 L299.0 275.9 L300.0 276.4 L301.0 275.9 L302.0 275.1 L303.0 273.5 L304.0 272.9 L305.0 272.9 L306.1 273.2 L307.2 272.3 L308.3 271.7 L309.4 271.2 L310.6 270.9 L311.7 271.3 L312.8 270.4 L313.9 270.3 L315.0 270.3 L316.2 269.8 L317.5 268.1 L318.8 268.0 L320.0 268.4 L321.2 267.8 L322.4 268.1 L323.6 266.2 L324.8 266.3 L326.0 266.5" fill="none" stroke="#000" stroke-width="1.0" stroke-linejoin="round" stroke-linecap="round" opacity="1.0"/>
<path d="M350.3 213.8 L355.0 212.8 L359.7 214.3 L359.7 218.9 L350.3 218.4Z" fill="#000" opacity="1.0"/>
<path d="M366.8 210.4 L368.6 209.4 L370.3 210.9 L370.3 215.9 L366.8 215.4Z" fill="#000" opacity="1.0"/>
<path d="M371.5 209.0 L373.2 208.0 L375.0 209.5 L375.0 214.7 L371.5 214.2Z" fill="#000" opacity="1.0"/>
<path d="M375.5 210.0 L377.4 209.0 L379.2 210.5 L379.2 214.5 L375.5 214.0Z" fill="#000" opacity="1.0"/>
<path d="M380.3 209.2 L382.1 208.2 L384.0 209.7 L384.0 215.3 L380.3 214.8Z" fill="#000" opacity="1.0"/>
<path d="M384.5 211.0 L385.9 210.0 L387.4 211.5 L387.4 215.0 L384.5 214.5Z" fill="#000" opacity="1.0"/>
<path d="M388.6 209.0 L389.8 208.0 L391.0 209.5 L391.0 217.0 L388.6 216.5Z" fill="#000" opacity="1.0"/>
<path d="M391.5 213.0 L393.6 212.0 L395.7 213.5 L395.7 220.6 L391.5 220.1Z" fill="#000" opacity="1.0"/>
<path d="M373.0 203.0 L373.3 209.0" fill="none" stroke="#000" stroke-width="1.0" stroke-linejoin="round" stroke-linecap="round" opacity="1.0"/>
<path d="M398.5 217.0 L399.8 218.3 L401.0 219.7 L400.0 220.6 L399.0 221.7 L398.0 223.1 L399.2 224.5 L400.5 225.9 L402.0 225.2 L403.5 224.4 L403.0 226.0 L402.5 227.9 L402.0 229.7" fill="none" stroke="#000" stroke-width="1.3" stroke-linejoin="round" stroke-linecap="round" opacity="1.0"/>
<path d="M401.6 221.5 L402.8 218.9 L404.0 218.1 L405.5 215.7 L407.0 214.5 L408.8 213.7 L410.5 211.8 L413.0 210.5 L415.7 209.2" fill="none" stroke="#000" stroke-width="1.4" stroke-linejoin="round" stroke-linecap="round" opacity="1.0"/>
<path d="M402.5 222.0 L403.5 221.3 L404.5 219.9 L405.5 218.9 L407.0 217.3 L408.5 216.6 L410.0 215.2 L411.5 214.3 L413.2 213.8 L415.0 212.5" fill="none" stroke="#000" stroke-width="1.2" stroke-linejoin="round" stroke-linecap="round" opacity="1.0"/>
<path d="M404.0 214.2 L406.0 212.5 L407.5 211.6 L409.0 210.1" fill="none" stroke="#000" stroke-width="1.0" stroke-linejoin="round" stroke-linecap="round" opacity="1.0"/>
<path d="M415.7 209.9 L417.4 209.9 L419.0 209.3 L421.0 210.3 L423.0 210.0 L425.0 210.4 L427.0 209.9 L428.5 210.5 L430.0 212.2 L431.5 212.3" fill="none" stroke="#000" stroke-width="1.3" stroke-linejoin="round" stroke-linecap="round" opacity="1.0"/>
<path d="M415.0 213.3 L417.0 212.7 L419.0 213.0 L421.0 213.1 L423.0 212.3 L425.0 213.8 L427.0 214.4 L428.5 215.0 L430.0 214.9 L431.5 216.0" fill="none" stroke="#000" stroke-width="1.1" stroke-linejoin="round" stroke-linecap="round" opacity="1.0"/>
<path d="M431.5 212.4 L432.8 212.1 L434.1 213.4 L435.4 213.5 L436.7 212.7 L438.0 213.2 L439.3 213.4 L440.6 213.5 L441.9 213.9 L443.2 215.2 L444.5 214.7 L445.8 215.2 L447.0 215.2 L448.3 215.5 L449.5 214.8 L450.8 215.2 L452.0 215.0 L453.3 215.6 L454.6 214.8 L455.8 215.8 L457.1 214.5 L458.3 215.3 L459.6 215.2 L460.8 215.9 L462.1 215.3 L463.4 215.7 L464.6 216.1 L465.9 215.7 L467.2 214.5 L468.4 214.5 L469.7 214.9 L471.0 214.4 L472.2 215.2 L473.5 215.0 L474.7 215.2 L476.0 214.9 L477.3 214.5 L478.5 214.5 L479.8 213.9 L481.1 214.8 L482.4 213.9 L483.7 213.4 L485.0 214.5 L486.3 213.8 L487.6 213.1 L488.9 213.9 L490.2 213.6 L491.5 213.9 L492.8 212.8" fill="none" stroke="#000" stroke-width="1.44" stroke-linejoin="round" stroke-linecap="round" opacity="1.0"/>
<path d="M431.5 214.5 L432.8 214.4 L434.1 214.6 L435.4 214.8 L436.7 215.4 L438.0 215.6 L439.3 215.0 L440.6 216.0 L441.9 215.0 L443.2 216.3 L444.5 216.2 L445.8 215.7 L447.0 216.7 L448.3 216.3 L449.5 216.1 L450.8 215.5 L452.0 215.9 L453.3 216.2 L454.6 216.5 L455.8 216.0 L457.1 217.3 L458.3 215.9 L459.6 216.6 L460.8 216.5 L462.1 216.4 L463.4 216.6 L464.6 216.7 L465.9 215.9 L467.2 216.8 L468.4 216.4 L469.7 215.7 L471.0 216.2 L472.2 216.2 L473.5 215.9 L474.7 215.3 L476.0 216.2 L477.3 216.1 L478.5 216.4 L479.8 215.4 L481.1 214.8 L482.4 214.8 L483.7 215.2 L485.0 214.6 L486.3 214.6 L487.6 214.6 L488.9 214.4 L490.2 214.2 L491.5 214.7 L492.8 214.9" fill="none" stroke="#000" stroke-width="1.44" stroke-linejoin="round" stroke-linecap="round" opacity="1.0"/>
<path d="M431.5 215.7 L432.8 214.8 L434.1 215.3 L435.4 215.3 L436.7 215.7 L438.0 215.6 L439.3 216.2 L440.6 217.2 L441.9 216.3 L443.2 217.5 L444.5 217.6 L445.8 216.6 L447.0 216.4 L448.3 217.8 L449.5 217.5 L450.8 217.0 L452.0 216.9 L453.3 217.3 L454.6 216.9 L455.8 217.5 L457.1 218.0 L458.3 218.4 L459.6 217.6 L460.8 217.4 L462.1 217.7 L463.4 218.2 L464.6 217.7 L465.9 217.9 L467.2 218.2 L468.4 216.8 L469.7 217.1 L471.0 216.7 L472.2 217.9 L473.5 216.4 L474.7 216.6 L476.0 216.9 L477.3 217.5 L478.5 217.3 L479.8 216.3 L481.1 216.8 L482.4 216.5 L483.7 216.2 L485.0 215.8 L486.3 216.5 L487.6 216.3 L488.9 215.7 L490.2 215.2 L491.5 216.0 L492.8 215.9" fill="none" stroke="#000" stroke-width="1.44" stroke-linejoin="round" stroke-linecap="round" opacity="1.0"/>
<path d="M431.5 216.3 L432.8 216.4 L434.1 216.0 L435.4 216.5 L436.7 217.2 L438.0 216.7 L439.3 217.1 L440.6 218.1 L441.9 217.8 L443.2 217.9 L444.5 218.6 L445.8 218.6 L447.0 218.2 L448.3 217.7 L449.5 218.3 L450.8 217.9 L452.0 219.1 L453.3 218.4 L454.6 219.0 L455.8 218.4 L457.1 219.0 L458.3 218.7 L459.6 218.6 L460.8 219.7 L462.1 219.3 L463.4 219.0 L464.6 218.6 L465.9 218.8 L467.2 218.0 L468.4 218.3 L469.7 218.2 L471.0 218.5 L472.2 218.4 L473.5 217.7 L474.7 217.8 L476.0 217.5 L477.3 217.4 L478.5 218.9 L479.8 218.7 L481.1 218.7 L482.4 217.1 L483.7 218.4 L485.0 217.4 L486.3 218.0 L487.6 217.8 L488.9 217.5 L490.2 217.6 L491.5 217.3 L492.8 216.6" fill="none" stroke="#000" stroke-width="1.44" stroke-linejoin="round" stroke-linecap="round" opacity="1.0"/>
<path d="M414.5 212.9 L415.3 214.5 L416.2 216.7 L417.0 218.0 L416.2 219.6 L415.5 222.2 L416.3 223.3 L417.2 225.1 L418.0 226.7" fill="none" stroke="#000" stroke-width="1.0" stroke-linejoin="round" stroke-linecap="round" opacity="1.0"/>
<path d="M420.0 212.0 L420.6 213.5 L421.2 214.7 L421.8 216.6 L422.4 217.1 L423.0 219.5 L422.3 220.9 L421.7 222.6 L421.0 224.3 L422.5 224.7 L424.0 226.3" fill="none" stroke="#000" stroke-width="1.0" stroke-linejoin="round" stroke-linecap="round" opacity="1.0"/>
<path d="M426.0 213.9 L426.7 215.5 L427.3 217.6 L428.0 219.0 L427.2 220.8 L426.5 222.5" fill="none" stroke="#000" stroke-width="0.9" stroke-linejoin="round" stroke-linecap="round" opacity="1.0"/>
<path d="M354.7 250.6 C354.8 251.8 354.9 255.5 355.3 257.7 C355.7 259.9 356.4 262.3 357.1 263.6 C357.8 264.9 359.0 265.3 359.4 265.6" fill="none" stroke="#000" stroke-width="1.3" stroke-linejoin="round" stroke-linecap="round" opacity="1.0"/>
<path d="M359.4 264.1 L360.7 264.8 L362.0 264.0 L363.4 265.2 L364.7 265.2 L366.0 265.4 L367.4 264.9 L368.7 265.3 L370.0 265.6 L371.2 265.6 L372.5 264.7 L373.8 265.0 L375.0 265.6 L376.2 265.4 L377.5 265.4 L378.8 265.8 L380.0 266.1 L381.3 265.8 L382.6 266.1 L384.0 266.2 L385.3 265.8 L386.6 265.3 L388.0 265.8 L389.3 266.4 L390.6 266.4" fill="none" stroke="#000" stroke-width="1.44" stroke-linejoin="round" stroke-linecap="round" opacity="1.0"/>
<path d="M359.4 265.2 L360.7 265.8 L362.0 265.1 L363.4 265.3 L364.7 266.0 L366.0 266.2 L367.4 266.4 L368.7 266.5 L370.0 266.1 L371.2 266.5 L372.5 266.1 L373.8 266.0 L375.0 266.8 L376.2 266.7 L377.5 265.9 L378.8 266.1 L380.0 266.3 L381.3 266.2 L382.6 267.0 L384.0 267.4 L385.3 266.9 L386.6 266.3 L388.0 267.0 L389.3 266.7 L390.6 267.5" fill="none" stroke="#000" stroke-width="1.44" stroke-linejoin="round" stroke-linecap="round" opacity="1.0"/>
<path d="M359.4 267.0 L360.7 266.1 L362.0 267.0 L363.4 267.1 L364.7 266.3 L366.0 266.9 L367.4 267.4 L368.7 266.8 L370.0 267.2 L371.2 267.7 L372.5 266.8 L373.8 267.2 L375.0 267.5 L376.2 267.9 L377.5 267.3 L378.8 267.2 L380.0 267.8 L381.3 268.3 L382.6 268.2 L384.0 268.3 L385.3 267.3 L386.6 267.9 L388.0 268.0 L389.3 267.9 L390.6 267.9" fill="none" stroke="#000" stroke-width="1.44" stroke-linejoin="round" stroke-linecap="round" opacity="1.0"/>
<path d="M359.4 267.8 L360.7 268.1 L362.0 267.5 L363.4 268.2 L364.7 268.0 L366.0 267.4 L367.4 267.9 L368.7 267.9 L370.0 268.2 L371.2 268.1 L372.5 268.3 L373.8 268.2 L375.0 268.7 L376.2 269.0 L377.5 268.3 L378.8 268.6 L380.0 269.0 L381.3 269.2 L382.6 269.2 L384.0 269.1 L385.3 268.6 L386.6 268.9 L388.0 269.4 L389.3 269.5 L390.6 269.0" fill="none" stroke="#000" stroke-width="1.44" stroke-linejoin="round" stroke-linecap="round" opacity="1.0"/>
<path d="M395.4 240.0 C395.5 241.0 395.7 244.0 395.9 246.0 C396.1 248.0 396.1 249.3 396.5 251.8 C396.9 254.3 397.6 259.1 398.3 261.2 C399.0 263.3 400.3 264.1 400.7 264.7" fill="none" stroke="#000" stroke-width="1.3" stroke-linejoin="round" stroke-linecap="round" opacity="1.0"/>
<path d="M400.7 264.5 L401.8 265.0 L402.9 264.9 L404.0 265.7 L404.9 266.3 L405.7 268.1 L406.6 269.1 L407.8 270.5 L408.9 271.3 L410.1 271.4 L411.3 271.8 L412.4 271.9 L413.6 272.2 L414.8 272.9 L416.0 272.1 L417.2 272.6 L418.3 272.6 L419.5 271.8 L420.7 271.7 L421.8 270.8 L422.9 270.8 L424.0 269.7 L425.1 268.9 L426.2 268.5 L427.1 268.0 L428.0 267.2 L429.0 266.6 L429.9 266.1" fill="none" stroke="#000" stroke-width="1.44" stroke-linejoin="round" stroke-linecap="round" opacity="1.0"/>
<path d="M400.7 264.4 L401.8 265.6 L402.9 265.6 L404.0 266.3 L404.9 268.0 L405.7 268.3 L406.6 270.2 L407.8 270.5 L408.9 272.0 L410.1 272.6 L411.3 273.2 L412.4 273.2 L413.6 273.9 L414.8 273.9 L416.0 273.4 L417.2 273.0 L418.3 273.2 L419.5 273.2 L420.7 272.4 L421.8 271.4 L422.9 271.5 L424.0 270.7 L425.1 270.6 L426.2 270.3 L427.1 268.8 L428.0 268.5 L429.0 266.9 L429.9 266.8" fill="none" stroke="#000" stroke-width="1.44" stroke-linejoin="round" stroke-linecap="round" opacity="1.0"/>
<path d="M400.7 265.7 L401.8 267.1 L402.9 267.4 L404.0 267.8 L404.9 268.8 L405.7 269.9 L406.6 271.3 L407.8 272.2 L408.9 272.4 L410.1 273.2 L411.3 273.2 L412.4 274.2 L413.6 274.9 L414.8 275.3 L416.0 274.0 L417.2 273.7 L418.3 273.8 L419.5 273.6 L420.7 273.8 L421.8 273.2 L422.9 273.0 L424.0 271.5 L425.1 270.7 L426.2 270.6 L427.1 270.0 L428.0 269.0 L429.0 268.7 L429.9 267.1" fill="none" stroke="#000" stroke-width="1.44" stroke-linejoin="round" stroke-linecap="round" opacity="1.0"/>
<path d="M400.7 266.9 L401.8 268.1 L402.9 267.4 L404.0 268.1 L404.9 269.1 L405.7 270.8 L406.6 272.5 L407.8 272.6 L408.9 273.4 L410.1 274.8 L411.3 274.6 L412.4 274.8 L413.6 275.2 L414.8 275.6 L416.0 275.2 L417.2 274.8 L418.3 275.6 L419.5 274.6 L420.7 273.9 L421.8 274.5 L422.9 274.0 L424.0 272.9 L425.1 272.0 L426.2 271.7 L427.1 271.6 L428.0 270.2 L429.0 269.2 L429.9 268.2" fill="none" stroke="#000" stroke-width="1.44" stroke-linejoin="round" stroke-linecap="round" opacity="1.0"/>
<path d="M429.9 266.8 L431.1 266.0 L431.7 265.2 L432.4 264.1 L433.0 263.4 L433.6 262.3 L433.8 261.1 L434.1 259.2 L434.3 257.8 L434.6 256.9 L434.8 256.7 L435.1 253.9 L435.5 253.3 L435.8 252.2 L436.1 251.2 L436.6 252.0 L437.1 253.8 L437.5 255.0 L438.0 255.2 L438.5 255.5 L439.0 257.9 L439.5 258.9 L440.1 259.1 L440.6 260.8 L441.1 262.0 L441.6 263.2 L442.2 262.7 L442.8 263.7 L443.5 265.8 L444.1 265.8 L444.7 266.7 L445.2 267.4 L445.7 270.0 L446.2 270.0 L446.7 271.0 L447.2 273.0 L448.4 272.1 L449.6 273.7 L450.9 272.4 L452.1 274.3 L453.4 272.5 L454.6 272.4 L455.9 272.9 L457.1 273.3 L458.6 273.4 L460.0 274.4 L461.1 272.7 L462.2 273.0 L463.3 270.9 L464.5 271.0 L465.8 271.4 L467.0 270.2 L468.3 269.2 L469.5 270.1 L470.7 268.5 L471.9 268.8 L473.2 268.2 L474.4 268.2 L475.6 267.1 L476.8 268.3 L478.1 267.7 L479.3 266.8 L480.6 266.0 L481.8 265.8 L482.9 265.9 L483.9 266.5 L485.0 267.0 L486.0 267.9 L487.1 266.9 L488.1 268.9 L489.2 269.2" fill="none" stroke="#000" stroke-width="1.1" stroke-linejoin="round" stroke-linecap="round" opacity="1.0"/>
<path d="M429.9 267.9 L430.8 267.9 L431.8 267.7 L432.7 268.3 L433.6 269.3 L434.8 270.9 L436.1 271.4 L437.3 270.6 L437.8 271.8 L438.3 272.8 L438.8 274.7 L439.3 274.8 L439.8 275.5 L440.4 276.8 L441.1 276.8 L441.7 278.7 L442.3 278.9 L443.5 279.9 L444.8 278.8 L446.0 279.5 L447.2 278.1 L448.4 277.6 L449.7 278.9 L450.9 278.4 L452.1 276.5 L453.4 278.3 L454.6 277.8 L455.8 278.1 L457.1 277.4 L458.3 277.9 L459.5 277.9 L460.8 277.3 L462.0 276.7 L463.2 278.6 L464.5 279.6 L465.8 278.3 L467.0 280.0 L468.0 279.2 L469.1 278.6 L470.1 278.7 L471.1 278.1 L472.2 278.1 L473.2 277.0 L474.2 276.4 L475.3 276.1 L476.3 274.7 L477.3 275.5 L478.4 273.1 L479.4 274.1 L480.6 272.2 L481.8 271.7 L483.1 272.9 L484.3 271.7 L485.5 270.5 L486.6 270.5 L487.7 269.0 L488.8 269.0 L489.9 267.4" fill="none" stroke="#000" stroke-width="1.2" stroke-linejoin="round" stroke-linecap="round" opacity="1.0"/>
<path d="M431.0 268.9 L431.3 270.0 L431.6 270.3 L431.8 272.9 L432.1 273.8 L432.4 274.9 L433.1 275.5 L433.9 276.9 L434.6 278.4 L435.4 279.0 L436.1 279.3 L437.3 280.8 L438.6 280.0 L439.8 280.0 L441.0 280.7 L442.3 281.6 L443.5 282.7 L443.8 282.9 L444.1 284.8 L444.4 285.3 L444.7 286.1 L445.7 287.5 L446.7 286.1 L447.7 285.4 L448.7 285.4 L449.7 283.8 L450.9 285.0 L452.2 283.5 L453.4 284.5 L454.6 282.6 L455.9 282.9 L457.1 282.3 L458.1 282.4 L459.2 280.8 L460.2 280.3 L461.2 280.3 L462.3 279.2 L463.3 280.2 L464.5 278.8 L465.8 279.2 L467.0 279.6 L468.3 278.8 L469.5 280.5 L470.7 278.7 L471.9 278.7 L473.2 277.5 L474.4 277.1 L475.6 277.4 L476.5 276.8 L477.4 276.3 L478.3 275.9 L479.1 275.1 L480.0 273.4 L480.9 271.9 L481.8 271.4 L482.9 272.5 L483.9 272.4 L485.0 271.2 L486.0 269.7 L487.1 269.9 L488.1 270.5 L489.2 269.1" fill="none" stroke="#000" stroke-width="1.1" stroke-linejoin="round" stroke-linecap="round" opacity="1.0"/>
<path d="M513.2 213.5 L517.8 217.8" fill="none" stroke="#000" stroke-width="2.2" stroke-linejoin="round" stroke-linecap="round" opacity="1.0"/>
<path d="M517.8 213.5 L513.2 217.8" fill="none" stroke="#000" stroke-width="2.2" stroke-linejoin="round" stroke-linecap="round" opacity="1.0"/>
<path d="M525.7 214.0 L528.0 213.0 L531.6 214.5 L531.2 220.0 L526.0 219.5Z" fill="#000" opacity="1.0"/>
<path d="M531.6 213.5 L534.0 213.0 L537.5 214.0 L537.0 218.9 L532.0 218.0Z" fill="#000" opacity="1.0"/>
<path d="M538.6 206.0 L541.0 208.0 L541.0 216.5 L538.6 215.5Z" fill="#000" opacity="1.0"/>
<path d="M541.5 204.7 L543.5 206.7 L543.5 215.0 L541.5 214.0Z" fill="#000" opacity="1.0"/>
<path d="M543.5 209.0 L545.7 211.0 L545.7 216.5 L543.5 215.5Z" fill="#000" opacity="1.0"/>
<path d="M545.7 212.0 L546.0 212.9 L546.4 214.1 L546.7 214.8 L547.0 216.5 L547.3 216.5 L547.6 217.9 L547.9 219.4 L548.2 220.2 L548.5 221.6 L548.9 221.8 L549.3 223.0 L549.6 224.0 L550.0 224.8 L550.4 225.8 L550.7 225.5 L551.0 224.0 L551.3 223.4 L551.6 223.0 L551.9 221.9 L552.2 220.5 L552.5 218.7 L552.8 217.8 L553.0 217.6 L553.2 215.6 L553.5 215.5 L553.8 213.6 L554.0 212.9 L554.4 211.9 L554.7 211.3 L555.1 209.8 L555.3 211.0 L555.6 211.4 L555.8 212.5 L556.0 214.4 L556.3 215.0 L556.5 216.4 L556.8 216.4 L557.1 217.5 L557.4 219.1 L557.8 220.0 L558.1 221.1 L558.4 223.0 L558.7 224.3 L559.2 224.3 L559.8 225.3" fill="none" stroke="#000" stroke-width="1.1" stroke-linejoin="round" stroke-linecap="round" opacity="1.0"/>
<path d="M546.5 210.0 L547.0 211.7 L547.5 211.9 L548.0 214.1 L548.5 214.0 L548.7 215.4 L548.9 216.9 L549.1 218.2 L549.3 218.6 L549.5 219.8 L550.0 220.4 L550.5 221.8 L551.0 221.7 L551.5 223.3" fill="none" stroke="#000" stroke-width="1.0" stroke-linejoin="round" stroke-linecap="round" opacity="1.0"/>
<circle cx="547.5" cy="224.5" r="0.8" fill="#000"/>
<circle cx="553.5" cy="221.5" r="0.7" fill="#000"/>
<path d="M547.0 221.7 L548.0 224.0 L549.0 226.0 L550.0 227.5 L551.0 228.5" fill="none" stroke="#000" stroke-width="1.0" stroke-linejoin="round" stroke-linecap="round" opacity="1.0"/>
<path d="M559.8 224.0 L560.6 222.4 L561.4 221.7 L562.2 220.4 L563.0 219.2 L564.0 218.4 L565.0 217.3 L565.9 217.1 L566.9 215.6 L567.9 215.0 L569.0 214.8 L570.0 213.8 L571.3 213.1 L572.7 212.3 L574.0 210.9 L575.4 210.6 L576.8 211.2 L578.2 210.1 L579.6 210.5 L581.0 209.5 L582.4 209.6 L583.7 208.8 L585.1 208.1 L586.3 209.0 L587.5 209.3 L588.7 210.0 L589.8 208.9 L591.0 209.0 L592.2 210.8 L592.9 211.0 L593.5 212.7 L594.2 212.8 L594.9 214.8 L595.6 215.0 L596.2 216.7 L596.9 216.4 L597.5 218.3 L598.0 219.9 L598.6 221.4 L599.2 221.8 L600.2 221.6 L601.1 219.8 L602.1 220.1 L603.0 218.8 L604.0 218.0 L605.3 218.3 L606.5 218.9 L607.8 217.7 L609.0 218.5 L610.3 218.8 L611.5 218.3 L612.8 218.0 L614.0 218.6 L615.3 218.3 L616.5 217.7 L617.8 218.1 L619.0 217.8 L620.3 218.3 L621.5 217.6 L622.8 218.4 L624.0 218.3 L625.3 218.6 L626.5 217.6 L627.7 217.9 L629.0 218.5 L630.2 218.6 L631.4 217.6 L632.6 218.6 L633.9 217.6 L635.1 218.5 L636.3 217.7 L637.6 217.3 L638.8 217.9 L640.0 217.5 L641.3 218.2 L642.5 217.2 L643.7 216.7 L644.9 217.6 L646.2 217.9 L647.4 217.8 L648.6 217.5 L649.9 217.8 L651.1 217.1" fill="none" stroke="#000" stroke-width="1.44" stroke-linejoin="round" stroke-linecap="round" opacity="1.0"/>
<path d="M559.8 224.3 L560.6 224.0 L561.4 222.3 L562.2 221.2 L563.0 221.2 L564.0 219.0 L565.0 219.4 L565.9 218.0 L566.9 217.0 L567.9 216.3 L569.0 215.0 L570.0 214.4 L571.3 214.6 L572.7 212.6 L574.0 212.2 L575.4 212.2 L576.8 212.7 L578.2 212.5 L579.6 211.0 L581.0 211.3 L582.4 210.7 L583.7 210.1 L585.1 210.4 L586.3 209.3 L587.5 210.8 L588.7 211.0 L589.8 211.0 L591.0 211.0 L592.2 211.6 L592.9 211.4 L593.5 213.2 L594.2 213.4 L594.9 215.6 L595.6 215.8 L596.2 217.9 L596.9 217.7 L597.5 218.6 L598.0 220.9 L598.6 221.4 L599.2 222.4 L600.2 223.0 L601.1 221.4 L602.1 221.1 L603.0 220.6 L604.0 219.0 L605.3 218.5 L606.5 219.6 L607.8 219.4 L609.0 219.8 L610.3 219.4 L611.5 219.1 L612.8 219.5 L614.0 220.0 L615.3 219.1 L616.5 218.8 L617.8 218.7 L619.0 218.8 L620.3 219.5 L621.5 219.8 L622.8 219.6 L624.0 219.7 L625.3 219.0 L626.5 219.4 L627.7 218.5 L629.0 218.6 L630.2 218.8 L631.4 218.9 L632.6 218.7 L633.9 219.2 L635.1 219.1 L636.3 217.9 L637.6 218.2 L638.8 218.6 L640.0 219.0 L641.3 217.7 L642.5 218.6 L643.7 218.7 L644.9 218.2 L646.2 218.7 L647.4 218.4 L648.6 218.1 L649.9 218.3 L651.1 218.1" fill="none" stroke="#000" stroke-width="1.44" stroke-linejoin="round" stroke-linecap="round" opacity="1.0"/>
<path d="M559.8 225.7 L560.6 224.3 L561.4 223.5 L562.2 223.3 L563.0 221.6 L564.0 220.0 L565.0 220.5 L565.9 218.8 L566.9 218.7 L567.9 217.9 L569.0 215.9 L570.0 215.2 L571.3 214.9 L572.7 214.9 L574.0 213.4 L575.4 212.5 L576.8 213.4 L578.2 212.9 L579.6 212.8 L581.0 212.8 L582.4 211.1 L583.7 211.8 L585.1 211.0 L586.3 211.2 L587.5 210.7 L588.7 211.8 L589.8 212.0 L591.0 212.1 L592.2 211.4 L592.9 213.6 L593.5 214.4 L594.2 214.8 L594.9 216.1 L595.6 217.5 L596.2 217.4 L596.9 218.3 L597.5 219.6 L598.0 222.2 L598.6 222.1 L599.2 223.3 L600.2 223.8 L601.1 222.6 L602.1 222.3 L603.0 221.6 L604.0 220.1 L605.3 219.8 L606.5 220.7 L607.8 220.7 L609.0 220.9 L610.3 219.9 L611.5 220.5 L612.8 219.5 L614.0 220.6 L615.3 220.6 L616.5 220.7 L617.8 220.4 L619.0 220.4 L620.3 220.5 L621.5 220.5 L622.8 219.6 L624.0 219.7 L625.3 220.0 L626.5 219.5 L627.7 220.6 L629.0 220.8 L630.2 220.3 L631.4 220.3 L632.6 219.7 L633.9 220.4 L635.1 219.2 L636.3 220.1 L637.6 219.9 L638.8 220.0 L640.0 219.2 L641.3 219.3 L642.5 219.3 L643.7 220.0 L644.9 219.0 L646.2 218.7 L647.4 218.7 L648.6 218.7 L649.9 218.5 L651.1 218.4" fill="none" stroke="#000" stroke-width="1.44" stroke-linejoin="round" stroke-linecap="round" opacity="1.0"/>
<path d="M559.8 227.5 L560.6 225.9 L561.4 224.0 L562.2 222.9 L563.0 222.3 L564.0 221.3 L565.0 221.2 L565.9 220.4 L566.9 219.6 L567.9 218.5 L569.0 217.6 L570.0 216.0 L571.3 215.0 L572.7 215.8 L574.0 214.8 L575.4 213.8 L576.8 213.3 L578.2 214.2 L579.6 214.1 L581.0 213.4 L582.4 213.6 L583.7 212.0 L585.1 212.1 L586.3 212.6 L587.5 213.0 L588.7 212.7 L589.8 212.7 L591.0 212.6 L592.2 213.1 L592.9 214.4 L593.5 215.4 L594.2 216.6 L594.9 216.4 L595.6 218.1 L596.2 218.8 L596.9 219.8 L597.5 220.9 L598.0 222.4 L598.6 224.4 L599.2 225.0 L600.2 225.0 L601.1 223.5 L602.1 223.3 L603.0 221.8 L604.0 221.1 L605.3 220.7 L606.5 221.6 L607.8 220.5 L609.0 221.5 L610.3 220.9 L611.5 221.1 L612.8 221.5 L614.0 221.5 L615.3 221.5 L616.5 221.7 L617.8 221.7 L619.0 221.0 L620.3 220.5 L621.5 221.0 L622.8 221.7 L624.0 220.5 L625.3 221.8 L626.5 221.4 L627.7 221.7 L629.0 220.5 L630.2 221.5 L631.4 220.7 L632.6 221.4 L633.9 220.4 L635.1 220.6 L636.3 221.4 L637.6 219.9 L638.8 219.8 L640.0 220.4 L641.3 220.3 L642.5 220.5 L643.7 220.3 L644.9 220.1 L646.2 220.3 L647.4 220.1 L648.6 220.2 L649.9 220.0 L651.1 220.6" fill="none" stroke="#000" stroke-width="1.44" stroke-linejoin="round" stroke-linecap="round" opacity="1.0"/>
<path d="M603.0 229.5 L604.1 230.7 L605.2 229.7 L606.3 230.5 L607.4 232.2 L608.5 230.6 L609.6 230.1 L610.6 230.5 L611.7 230.4 L612.8 230.5 L613.9 230.0 L615.0 229.6 L616.1 229.8 L617.2 228.6 L618.3 228.8 L619.5 229.4 L620.6 228.9 L621.7 228.4 L622.8 227.3 L623.9 228.8 L625.0 226.9 L626.1 228.3 L627.2 226.9 L628.3 227.5 L629.5 227.8 L630.6 227.4 L631.7 226.3 L632.8 226.6 L633.9 226.9 L635.0 226.6 L636.1 226.1 L637.3 226.0 L638.5 227.2 L639.6 226.7 L640.8 226.4 L641.9 225.5 L643.0 226.8 L644.2 227.2 L645.4 226.6 L646.5 226.0 L647.6 226.3 L648.8 226.1 L650.0 225.0 L651.1 225.7" fill="none" stroke="#000" stroke-width="1.2" stroke-linejoin="round" stroke-linecap="round" opacity="1.0"/>
<path d="M513.1 247.5 C513.1 248.1 513.3 249.8 513.4 251.0 C513.5 252.2 513.5 253.0 513.7 254.5 C513.9 256.0 514.1 258.6 514.8 260.1 C515.4 261.6 517.1 263.0 517.6 263.6" fill="none" stroke="#000" stroke-width="1.3" stroke-linejoin="round" stroke-linecap="round" opacity="1.0"/>
<path d="M517.6 263.1 L519.0 264.0 L520.2 264.4 L521.3 264.8 L522.5 263.8 L523.7 265.4 L524.8 265.6 L526.0 266.2 L527.4 265.0 L528.8 265.0 L530.2 264.2 L531.6 264.2 L533.0 263.8 L534.2 263.9 L535.4 264.4 L536.6 264.0 L537.8 264.3 L539.0 263.3 L540.2 264.2 L541.4 263.6 L542.6 263.9 L543.7 264.0 L544.9 265.3 L546.1 264.6 L547.2 266.2 L548.4 266.7" fill="none" stroke="#000" stroke-width="1.44" stroke-linejoin="round" stroke-linecap="round" opacity="1.0"/>
<path d="M517.6 263.4 L519.0 264.5 L520.2 264.9 L521.3 265.8 L522.5 265.6 L523.7 265.9 L524.8 266.3 L526.0 266.7 L527.4 266.1 L528.8 265.7 L530.2 265.1 L531.6 265.7 L533.0 264.9 L534.2 264.8 L535.4 264.3 L536.6 264.2 L537.8 265.1 L539.0 264.2 L540.2 264.3 L541.4 264.7 L542.6 265.0 L543.7 265.1 L544.9 266.2 L546.1 266.6 L547.2 267.5 L548.4 267.4" fill="none" stroke="#000" stroke-width="1.44" stroke-linejoin="round" stroke-linecap="round" opacity="1.0"/>
<path d="M517.6 264.8 L519.0 265.3 L520.2 266.0 L521.3 265.6 L522.5 266.7 L523.7 266.4 L524.8 267.9 L526.0 267.4 L527.4 266.9 L528.8 266.8 L530.2 266.3 L531.6 267.1 L533.0 266.2 L534.2 265.6 L535.4 266.6 L536.6 265.4 L537.8 265.5 L539.0 265.8 L540.2 265.5 L541.4 266.0 L542.6 265.4 L543.7 265.9 L544.9 266.4 L546.1 267.5 L547.2 268.3 L548.4 268.0" fill="none" stroke="#000" stroke-width="1.44" stroke-linejoin="round" stroke-linecap="round" opacity="1.0"/>
<path d="M517.6 265.9 L519.0 266.5 L520.2 266.9 L521.3 267.8 L522.5 268.0 L523.7 267.6 L524.8 267.9 L526.0 268.4 L527.4 268.8 L528.8 267.8 L530.2 267.2 L531.6 267.6 L533.0 267.9 L534.2 267.1 L535.4 267.5 L536.6 266.9 L537.8 266.5 L539.0 267.4 L540.2 266.2 L541.4 266.8 L542.6 267.5 L543.7 267.0 L544.9 267.9 L546.1 268.4 L547.2 269.3 L548.4 268.8" fill="none" stroke="#000" stroke-width="1.44" stroke-linejoin="round" stroke-linecap="round" opacity="1.0"/>
<path d="M533.0 267.6 L533.4 269.0 L533.8 270.2 L534.3 271.3 L534.7 272.9 L535.1 274.3 L536.3 274.1 L537.5 274.7 L538.8 274.6 L540.0 274.7 L540.8 276.3 L541.7 277.5 L542.5 277.5 L543.4 278.4 L544.2 278.1 L545.4 279.9 L546.7 279.6 L547.9 279.8 L549.1 279.0" fill="none" stroke="#000" stroke-width="1.1" stroke-linejoin="round" stroke-linecap="round" opacity="1.0"/>
<path d="M553.7 236.3 C553.8 237.4 553.9 240.6 554.0 243.0 C554.1 245.4 553.9 247.6 554.3 251.0 C554.6 254.4 555.2 260.6 556.1 263.6 C557.0 266.6 559.0 268.3 559.6 269.2" fill="none" stroke="#000" stroke-width="1.3" stroke-linejoin="round" stroke-linecap="round" opacity="1.0"/>
<path d="M559.6 268.7 L560.8 269.3 L561.9 269.7 L563.1 270.3 L564.3 270.1 L565.4 271.0 L566.6 270.8 L567.7 271.5 L568.8 272.3 L570.0 273.0 L571.1 273.9 L572.2 274.4 L573.3 272.8 L574.4 272.3 L575.6 272.5 L576.7 272.2 L577.8 270.7 L579.2 270.8 L580.6 270.5 L582.0 270.4 L583.4 270.1 L584.2 269.9 L585.0 268.4 L585.8 267.2 L586.6 265.9 L587.4 264.5 L588.2 263.5 L589.0 262.6 L590.0 261.5 L591.0 260.2 L592.1 259.3 L593.1 258.1 L593.7 259.2 L594.3 261.2 L594.8 261.5 L595.4 263.0 L596.0 263.8 L596.7 265.2 L597.4 266.8 L598.1 267.1 L598.9 268.2 L599.6 269.9 L600.3 270.6 L601.6 271.5 L602.9 271.9 L604.2 272.6 L605.5 272.8 L606.8 273.4 L608.0 274.8 L609.3 274.4 L610.6 275.4 L611.9 275.9 L613.2 275.8 L614.5 276.2 L615.8 275.6 L617.1 275.5 L618.3 275.9 L619.6 275.0 L620.9 274.8 L621.9 274.5 L623.0 273.9 L624.0 272.6 L625.1 272.4 L626.1 270.7 L627.7 270.5 L629.2 270.3 L630.6 270.5 L632.1 270.6 L633.5 269.7 L635.0 269.7 L636.4 270.5 L637.6 270.0 L638.8 270.4 L640.0 270.8 L641.2 269.7 L642.4 270.6 L643.6 270.1 L644.9 269.9 L646.2 269.6 L647.5 269.2 L648.8 269.2" fill="none" stroke="#000" stroke-width="1.44" stroke-linejoin="round" stroke-linecap="round" opacity="1.0"/>
<path d="M559.6 269.1 L560.8 269.9 L561.9 270.2 L563.1 271.0 L564.3 270.8 L565.4 271.9 L566.6 271.9 L567.7 272.9 L568.8 273.7 L570.0 273.2 L571.1 274.5 L572.2 275.4 L573.3 274.3 L574.4 273.9 L575.6 273.6 L576.7 272.2 L577.8 272.2 L579.2 271.9 L580.6 271.4 L582.0 272.0 L583.4 270.9 L584.2 270.5 L585.0 268.7 L585.8 268.4 L586.6 267.2 L587.4 266.4 L588.2 264.9 L589.0 263.5 L590.0 262.4 L591.0 261.7 L592.1 260.9 L593.1 259.3 L593.7 260.8 L594.3 262.0 L594.8 262.7 L595.4 264.2 L596.0 264.5 L596.7 266.1 L597.4 267.5 L598.1 268.0 L598.9 269.6 L599.6 270.2 L600.3 271.5 L601.6 272.8 L602.9 273.3 L604.2 274.0 L605.5 274.2 L606.8 275.2 L608.0 274.8 L609.3 275.6 L610.6 276.3 L611.9 276.2 L613.2 277.1 L614.5 277.1 L615.8 277.0 L617.1 276.3 L618.3 276.5 L619.6 276.6 L620.9 275.6 L621.9 275.2 L623.0 274.1 L624.0 274.2 L625.1 272.5 L626.1 272.1 L627.7 271.4 L629.2 271.0 L630.6 271.6 L632.1 271.0 L633.5 271.6 L635.0 271.0 L636.4 271.6 L637.6 271.1 L638.8 270.8 L640.0 271.7 L641.2 271.6 L642.4 270.7 L643.6 270.5 L644.9 270.8 L646.2 270.7 L647.5 270.1 L648.8 269.9" fill="none" stroke="#000" stroke-width="1.44" stroke-linejoin="round" stroke-linecap="round" opacity="1.0"/>
<path d="M559.6 270.5 L560.8 271.0 L561.9 271.2 L563.1 272.0 L564.3 271.7 L565.4 272.1 L566.6 272.6 L567.7 273.1 L568.8 273.9 L570.0 275.0 L571.1 274.9 L572.2 275.7 L573.3 275.6 L574.4 274.3 L575.6 274.1 L576.7 273.9 L577.8 272.4 L579.2 272.7 L580.6 272.4 L582.0 272.1 L583.4 272.0 L584.2 271.3 L585.0 270.3 L585.8 269.4 L586.6 267.9 L587.4 266.7 L588.2 265.2 L589.0 264.1 L590.0 262.9 L591.0 262.6 L592.1 260.9 L593.1 259.9 L593.7 261.9 L594.3 262.2 L594.8 264.0 L595.4 265.4 L596.0 265.5 L596.7 266.7 L597.4 268.2 L598.1 269.5 L598.9 269.7 L599.6 271.1 L600.3 272.4 L601.6 273.3 L602.9 273.2 L604.2 275.0 L605.5 275.2 L606.8 275.9 L608.0 276.7 L609.3 276.5 L610.6 277.3 L611.9 277.6 L613.2 276.9 L614.5 277.5 L615.8 277.2 L617.1 277.3 L618.3 277.6 L619.6 276.9 L620.9 276.5 L621.9 276.3 L623.0 275.8 L624.0 274.9 L625.1 273.5 L626.1 273.2 L627.7 272.1 L629.2 272.1 L630.6 272.4 L632.1 272.5 L633.5 272.1 L635.0 272.3 L636.4 271.8 L637.6 272.6 L638.8 272.3 L640.0 271.5 L641.2 272.2 L642.4 272.5 L643.6 272.5 L644.9 272.1 L646.2 270.9 L647.5 271.6 L648.8 271.3" fill="none" stroke="#000" stroke-width="1.44" stroke-linejoin="round" stroke-linecap="round" opacity="1.0"/>
<path d="M556.8 270.0 L557.4 270.2 L558.0 271.7 L558.6 273.1 L559.2 273.3 L559.8 275.4 L560.4 277.4 L561.0 277.5 L562.2 278.6 L563.3 279.2 L564.5 277.7 L565.7 278.0 L566.8 279.2 L568.0 280.6 L569.1 280.2 L570.2 281.4 L571.4 281.7 L572.5 281.0 L573.6 282.4 L574.5 282.2 L575.5 280.7 L576.4 280.0 L577.3 280.5 L578.3 279.2 L579.2 279.4 L580.2 278.0 L581.2 277.0 L582.2 276.9 L583.2 277.2 L584.2 275.7 L585.2 275.5 L586.2 275.3 L586.8 273.4 L587.4 273.7 L588.0 271.1 L588.6 271.0 L589.3 269.6 L589.9 268.5 L590.5 269.1 L591.1 266.7 L591.7 267.0 L592.3 265.2 L592.9 265.1 L593.4 263.9 L594.0 261.0" fill="none" stroke="#000" stroke-width="1.1" stroke-linejoin="round" stroke-linecap="round" opacity="1.0"/>
<path d="M568.0 276.5 L569.1 276.3 L570.2 277.6 L571.4 277.0 L572.5 278.1 L573.6 276.8 L574.9 277.3 L576.2 276.4 L577.4 275.9 L578.7 275.9 L580.0 276.1 L581.0 275.3 L582.0 275.5 L583.0 274.8 L584.0 273.6 L585.0 273.9 L586.0 272.7 L586.7 272.6 L587.3 271.0 L588.0 269.6 L588.7 268.8 L589.3 269.5 L590.0 267.9 L590.7 267.0 L591.3 266.1 L592.0 265.0" fill="none" stroke="#000" stroke-width="1.0" stroke-linejoin="round" stroke-linecap="round" opacity="1.0"/>
<path d="M598.2 269.3 L599.1 271.2 L600.0 270.9 L600.9 271.3 L601.9 273.3 L602.8 274.0 L603.7 274.6 L604.6 274.1 L605.5 275.6 L606.3 276.5 L607.0 277.4 L607.8 278.6 L608.6 279.5 L609.1 280.9 L609.6 281.0 L610.1 283.1 L610.6 285.0 L611.3 285.0 L612.0 285.7 L612.8 287.5 L613.5 287.9 L614.2 290.0 L614.8 288.7 L615.3 287.2 L616.5 286.3 L617.7 285.0 L618.9 284.7 L619.9 285.0 L620.9 285.2 L622.0 283.8 L623.0 284.5 L624.0 283.2 L625.0 281.8 L626.1 282.3 L627.1 282.7 L628.2 280.9 L629.2 281.6 L630.2 280.6 L631.2 279.2 L632.3 279.6 L633.3 277.8 L634.3 277.7 L635.3 277.9 L636.4 276.1 L637.4 277.3 L638.5 275.9 L639.5 276.1 L640.7 275.9 L642.0 276.3 L643.2 275.0 L644.5 275.4 L645.7 274.9 L647.0 273.4" fill="none" stroke="#000" stroke-width="1.2" stroke-linejoin="round" stroke-linecap="round" opacity="1.0"/>
<path d="M608.6 277.2 L609.6 279.0 L610.6 278.8 L611.7 280.3 L612.7 280.9 L613.7 281.0 L614.5 281.8 L615.4 281.5 L616.2 284.0 L617.0 284.6 L618.2 283.5 L619.5 282.6 L620.8 283.1 L622.0 283.3 L623.1 283.3 L624.3 281.7 L625.5 281.4 L626.6 281.0 L627.8 280.9 L628.9 280.1 L630.1 281.0 L631.2 279.4 L632.2 279.6 L633.3 278.3 L634.3 279.2 L635.4 277.6 L636.4 277.1 L637.4 277.6 L638.5 278.0 L639.5 277.0 L640.7 277.5 L641.9 277.0 L643.1 278.3 L644.3 276.9 L645.5 276.7 L646.7 278.0" fill="none" stroke="#000" stroke-width="1.0" stroke-linejoin="round" stroke-linecap="round" opacity="1.0"/>
</svg>
</body></html>
